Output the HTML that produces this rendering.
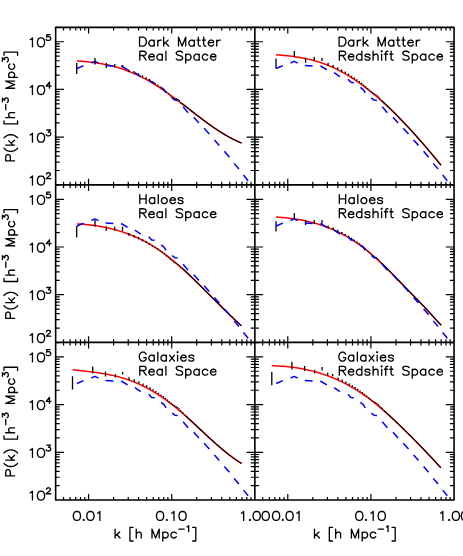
<!DOCTYPE html>
<html><head><meta charset="utf-8"><title>P(k)</title>
<style>html,body{margin:0;padding:0;background:#fff;font-family:"Liberation Sans",sans-serif}svg{display:block}</style>
</head><body>
<svg width="463" height="556" viewBox="0 0 463 556">
<rect width="463" height="556" fill="#fff"/>
<g>
<polyline points="77.1,60.89 78.1,60.95 79.1,61.03 80.1,61.1 81.1,61.18 82.1,61.26 83.1,61.35 84.1,61.43 85.1,61.53 86.1,61.63 87.1,61.73 88.1,61.83 89.1,61.94 90.1,62.06 91.1,62.18 92.1,62.3 93.1,62.43 94.1,62.56 95.1,62.7 96.1,62.85 97.1,63 98.1,63.16 99.1,63.32 100.1,63.48 101.1,63.66 102.1,63.84 103.1,64.02 104.1,64.22 105.1,64.42 106.1,64.62 107.1,64.83 108.1,65.05 109.1,65.28 110.1,65.51 111.1,65.75 112.1,66 113.1,66.26 114.1,66.52 115.1,66.79 116.1,67.07 117.1,67.35 118.1,67.65 119.1,67.95 120.1,68.26 121.1,68.58 122.1,68.91 123.1,69.25 124.1,69.6 125.1,69.95 126.1,70.32 127.1,70.69 128.1,71.07 129.1,71.46 130.1,71.86 131.1,72.27 132.1,72.69 133.1,73.11 134.1,73.55 135.1,73.99 136.1,74.44 137.1,74.9 138.1,75.37 139.1,75.85 140.1,76.34 141.1,76.84 142.1,77.35 143.1,77.86 144.1,78.39 145.1,78.92 146.1,79.46 147.1,80.01 148.1,80.57 149.1,81.14 150.1,81.72 151.1,82.31 152.1,82.91 153.1,83.51 154.1,84.12 155.1,84.74 156.1,85.37 157.1,86.01 158.1,86.65 159.1,87.31 160.1,87.96 161.1,88.63 162.1,89.3 163.1,89.98 164.1,90.67 165.1,91.36 166.1,92.06 167.1,92.76 168.1,93.47 169.1,94.19 170.1,94.91 171.1,95.63 172.1,96.36 173.1,97.1 174.1,97.84 175.1,98.58 176.1,99.33 177.1,100.08 178.1,100.83 179.1,101.59 180.1,102.35 181.1,103.11 182.1,103.87 183.1,104.63 184.1,105.4 185.1,106.17 186.1,106.94 187.1,107.71 188.1,108.48 189.1,109.25 190.1,110.02 191.1,110.79 192.1,111.55 193.1,112.32 194.1,113.09 195.1,113.85 196.1,114.62 197.1,115.38 198.1,116.14 199.1,116.89 200.1,117.65 201.1,118.4 202.1,119.15 203.1,119.89 204.1,120.63 205.1,121.37 206.1,122.1 207.1,122.83 208.1,123.55 209.1,124.26 210.1,124.98 211.1,125.68 212.1,126.38 213.1,127.07 214.1,127.76 215.1,128.44 216.1,129.11 217.1,129.78 218.1,130.43 219.1,131.08 220.1,131.73 221.1,132.36 222.1,132.98 223.1,133.6 224.1,134.2 225.1,134.8 226.1,135.39 227.1,135.96 228.1,136.53 229.1,137.09 230.1,137.63 231.1,138.16 232.1,138.69 233.1,139.2 234.1,139.7 235.1,140.18 236.1,140.66 237.1,141.12 238.1,141.57 239.1,142 240.1,142.42 241.1,142.83 241.6,143.03" fill="none" stroke="#ff0000" stroke-width="1.5" stroke-linecap="butt" stroke-linejoin="round"/>
<path d="M77 68.5L83.6 65.6M91.4 62.96L95 61.36L98.5 63.06M105.6 65.56L113.4 65.96M121.2 65.96L127.6 69.76M134.9 72.66L140.7 76.56M148.8 79.16L151.7 82.36L154.7 82.76M161.2 87.36L164 89.56L166 92.76M172.1 97.96L174.8 100.1L177.7 100.4M183.1 106.76L188.1 112.66M193.8 117.16L198.9 122.96M204.1 128.16L209.3 133.96M214.4 139.9L219.3 145.4M224.4 151.36L229.4 157.16M234.1 163.36L238.9 169.06M243.5 175.06L248.1 180.76" fill="none" stroke="#0000ff" stroke-width="1.5" stroke-linecap="butt" stroke-linejoin="round"/>
<path d="M76.7 62.95V74M95 58V64.5M106.3 63V68.1M114.7 64V67.5M122.5 64.9V67.5M128.9 69.4V72M134.03 70.96V73.52M138.53 73.13V75.43M142.52 75.36V77.45M146.12 77.21V79.14M149.39 79.12V80.91M152.39 81.19V82.86M155.16 82.96V84.53M157.74 84.52V86M160.14 86.36V87.77M162.39 87.92V89.26M164.51 89.5V90.79M166.51 91.6V92.83M168.41 93.41V94.59M170.21 95.38V96.53M171.93 96.79V97.89M173.56 97.99V99.09M175.13 98.16V99.26M176.63 98.31V99.41M178.08 98.98V100.08M179.46 100.03V101.13M180.8 102.28V103.38" fill="none" stroke="#000" stroke-width="1.3" stroke-linecap="butt"/>
<polyline points="182.09,103.45 183.33,104.42 184.53,105.36 185.69,106.28 186.82,107.16 187.91,108.03 188.97,108.86 190.01,109.67 191.01,110.46 191.98,111.23 192.93,111.97 193.86,112.7 194.76,113.41 195.64,114.1 196.5,114.77 197.34,115.42 198.16,116.06 198.96,116.68 199.74,117.28 200.51,117.88 201.26,118.45 202,119.02 202.72,119.57 203.43,120.1 204.12,120.63 204.8,121.14 205.47,121.64 206.12,122.12 206.77,122.59 207.4,123.04 208.02,123.49 208.64,123.93 209.24,124.36 209.83,124.78 210.41,125.19 210.98,125.6 211.55,125.99 212.1,126.38 212.65,126.76 213.19,127.13 213.72,127.5 214.24,127.86 214.76,128.21 215.27,128.55 215.77,128.89 216.26,129.22 216.75,129.54 217.23,129.86 217.7,130.18 218.17,130.48 218.64,130.78 219.09,131.08 219.54,131.37 219.99,131.65 220.43,131.94 220.86,132.21 221.29,132.48 221.72,132.75 222.14,133.01 222.55,133.26 222.96,133.51 223.37,133.76 223.77,134.01 224.17,134.24 224.56,134.48 224.95,134.71 225.33,134.94 225.71,135.16 226.09,135.38 226.46,135.6 226.83,135.81 227.19,136.02 227.55,136.22 227.91,136.42 228.26,136.62 228.61,136.82 228.96,137.01 229.3,137.2 229.65,137.38 229.98,137.57 230.32,137.75 230.65,137.92 230.98,138.1 231.3,138.27 231.62,138.44 231.94,138.61 232.26,138.77 232.57,138.93 232.88,139.09 233.19,139.24 233.5,139.4 233.8,139.55 234.1,139.7 234.4,139.84 234.7,139.99 234.99,140.13 235.28,140.27 235.57,140.41 235.86,140.54 236.14,140.68 236.42,140.81 236.7,140.94 236.98,141.06 237.26,141.19 237.53,141.31 237.8,141.43 238.07,141.55 238.34,141.67 238.6,141.79 238.87,141.9 239.13,142.01 239.39,142.12 239.65,142.23 239.9,142.34 240.16,142.44 240.41,142.55 240.66,142.65 240.91,142.75 241.16,142.85 241.4,142.95 241.64,143.03" fill="none" stroke="#000" stroke-width="1.1" stroke-linecap="butt" stroke-linejoin="round"/>
</g>
<g>
<polyline points="276,54.73 277,54.81 278,54.89 279,54.97 280,55.06 281,55.15 282,55.24 283,55.33 284,55.43 285,55.53 286,55.63 287,55.74 288,55.85 289,55.96 290,56.08 291,56.21 292,56.33 293,56.47 294,56.6 295,56.74 296,56.89 297,57.04 298,57.2 299,57.36 300,57.53 301,57.71 302,57.89 303,58.08 304,58.27 305,58.47 306,58.68 307,58.89 308,59.12 309,59.34 310,59.58 311,59.83 312,60.08 313,60.34 314,60.61 315,60.88 316,61.17 317,61.46 318,61.76 319,62.08 320,62.4 321,62.73 322,63.07 323,63.42 324,63.78 325,64.15 326,64.53 327,64.92 328,65.32 329,65.73 330,66.15 331,66.58 332,67.02 333,67.48 334,67.94 335,68.42 336,68.9 337,69.4 338,69.9 339,70.41 340,70.94 341,71.47 342,72.02 343,72.57 344,73.14 345,73.71 346,74.3 347,74.89 348,75.49 349,76.11 350,76.73 351,77.36 352,78 353,78.65 354,79.31 355,79.98 356,80.66 357,81.35 358,82.04 359,82.75 360,83.46 361,84.18 362,84.92 363,85.66 364,86.41 365,87.16 366,87.93 367,88.7 368,89.49 369,90.28 370,91.08 371,91.89 372,92.7 373,93.53 374,94.36 375,95.2 376,96.05 377,96.91 378,97.77 379,98.64 380,99.52 381,100.41 382,101.3 383,102.21 384,103.12 385,104.03 386,104.96 387,105.89 388,106.83 389,107.77 390,108.72 391,109.68 392,110.65 393,111.62 394,112.6 395,113.59 396,114.59 397,115.59 398,116.59 399,117.61 400,118.63 401,119.65 402,120.68 403,121.72 404,122.77 405,123.82 406,124.87 407,125.94 408,127.01 409,128.08 410,129.16 411,130.25 412,131.34 413,132.43 414,133.54 415,134.64 416,135.76 417,136.88 418,138 419,139.13 420,140.26 421,141.4 422,142.55 423,143.7 424,144.85 425,146.01 426,147.18 427,148.34 428,149.52 429,150.7 430,151.88 431,153.06 432,154.26 433,155.45 434,156.65 435,157.85 436,159.06 437,160.27 438,161.49 439,162.71 440,163.93 441,165.16" fill="none" stroke="#ff0000" stroke-width="1.5" stroke-linecap="butt" stroke-linejoin="round"/>
<path d="M276 58.5V68.6M294.3 51.1V57.3M305.6 58.2V62.8M314.2 57V61.1M322 58V61.1M328.09 62.77V65.66M333.23 64.92V67.47M337.73 67.21V69.51M341.72 69.49V71.59M345.32 71.54V73.46M348.59 73.56V75.35M351.59 75.63V77.3M354.36 77.5V79.07M356.94 79.23V80.71M359.34 81.07V82.48M361.59 82.74V84.08M363.71 84.39V85.68M365.71 86.27V87.51M367.61 87.99V89.18M369.41 89.77V90.91M371.13 91.24V92.34M372.76 92.58V93.68M374.33 93.39V94.49M375.83 94.22V95.32M377.28 95.29V96.39M378.66 96.54V97.64M380 98.37V99.47" fill="none" stroke="#000" stroke-width="1.3" stroke-linecap="butt"/>
<polyline points="381.29,100.25 382.53,101.39 383.73,102.5 384.89,103.59 386.02,104.65 387.11,105.69 388.17,106.7 389.21,107.7 390.21,108.67 391.18,109.63 392.13,110.56 393.06,111.48 393.96,112.38 394.84,113.26 395.7,114.13 396.54,114.98 397.36,115.82 398.16,116.64 398.94,117.45 399.71,118.25 400.46,119.03 401.2,119.8 401.92,120.56 402.63,121.3 403.32,122.04 404,122.76 404.67,123.47 405.32,124.16 405.97,124.84 406.6,125.51 407.22,126.18 407.84,126.83 408.44,127.47 409.03,128.11 409.61,128.74 410.18,129.36 410.75,129.97 411.3,130.58 411.85,131.17 412.39,131.76 412.92,132.34 413.44,132.92 413.96,133.49 414.47,134.05 414.97,134.61 415.46,135.16 415.95,135.7 416.43,136.24 416.9,136.77 417.37,137.3 417.84,137.82 418.29,138.33 418.74,138.84 419.19,139.34 419.63,139.84 420.06,140.34 420.49,140.83 420.92,141.31 421.34,141.79 421.75,142.27 422.16,142.74 422.57,143.2 422.97,143.66 423.37,144.12 423.76,144.57 424.15,145.02 424.53,145.47 424.91,145.91 425.29,146.34 425.66,146.78 426.03,147.21 426.39,147.63 426.75,148.05 427.11,148.47 427.46,148.89 427.81,149.3 428.16,149.71 428.5,150.11 428.85,150.51 429.18,150.91 429.52,151.31 429.85,151.7 430.18,152.09 430.5,152.47 430.82,152.85 431.14,153.23 431.46,153.61 431.77,153.98 432.08,154.36 432.39,154.72 432.7,155.09 433,155.45 433.3,155.81 433.6,156.17 433.9,156.53 434.19,156.88 434.48,157.23 434.77,157.58 435.06,157.92 435.34,158.27 435.62,158.61 435.9,158.94 436.18,159.28 436.46,159.61 436.73,159.95 437,160.28 437.27,160.6 437.54,160.93 437.8,161.25 438.07,161.57 438.33,161.89 438.59,162.21 438.85,162.52 439.1,162.83 439.36,163.15 439.61,163.45 439.86,163.76 440.11,164.07 440.36,164.37 440.6,164.67 440.84,164.97 441.09,165.16" fill="none" stroke="#000" stroke-width="1.1" stroke-linecap="butt" stroke-linejoin="round"/>
<path d="M276.2 68.5L282.8 65.6M290.6 62.96L294.2 61.36L297.7 63.06M304.8 65.56L312.6 65.96M320.4 65.96L326.8 69.76M334.1 72.66L339.9 76.56M348 79.16L350.9 82.36L353.9 82.76M360.4 87.36L363.2 89.56L365.2 92.76M371.3 97.96L374 100.1L376.9 100.4M382.3 106.76L387.3 112.66M393 117.16L398.1 122.96M403.3 128.16L408.5 133.96M413.6 139.9L418.5 145.4M423.6 151.36L428.6 157.16M433.3 163.36L438.1 169.06M442.7 175.06L447.3 180.76" fill="none" stroke="#0000ff" stroke-width="1.5" stroke-linecap="butt" stroke-linejoin="round"/>
</g>
<g>
<polyline points="77.1,223.84 78.1,223.9 79.1,223.97 80.1,224.04 81.1,224.11 82.1,224.19 83.1,224.27 84.1,224.36 85.1,224.45 86.1,224.55 87.1,224.65 88.1,224.76 89.1,224.87 90.1,224.98 91.1,225.1 92.1,225.23 93.1,225.36 94.1,225.5 95.1,225.64 96.1,225.79 97.1,225.94 98.1,226.1 99.1,226.26 100.1,226.43 101.1,226.61 102.1,226.79 103.1,226.98 104.1,227.17 105.1,227.37 106.1,227.58 107.1,227.79 108.1,228.01 109.1,228.24 110.1,228.47 111.1,228.71 112.1,228.96 113.1,229.22 114.1,229.48 115.1,229.75 116.1,230.02 117.1,230.3 118.1,230.59 119.1,230.89 120.1,231.2 121.1,231.51 122.1,231.83 123.1,232.16 124.1,232.5 125.1,232.84 126.1,233.2 127.1,233.56 128.1,233.93 129.1,234.31 130.1,234.7 131.1,235.09 132.1,235.5 133.1,235.91 134.1,236.33 135.1,236.76 136.1,237.2 137.1,237.65 138.1,238.11 139.1,238.58 140.1,239.06 141.1,239.54 142.1,240.04 143.1,240.54 144.1,241.06 145.1,241.59 146.1,242.12 147.1,242.67 148.1,243.22 149.1,243.79 150.1,244.37 151.1,244.96 152.1,245.55 153.1,246.16 154.1,246.78 155.1,247.41 156.1,248.05 157.1,248.7 158.1,249.37 159.1,250.04 160.1,250.72 161.1,251.42 162.1,252.13 163.1,252.85 164.1,253.58 165.1,254.32 166.1,255.07 167.1,255.84 168.1,256.61 169.1,257.4 170.1,258.19 171.1,259 172.1,259.81 173.1,260.64 174.1,261.47 175.1,262.31 176.1,263.16 177.1,264.02 178.1,264.89 179.1,265.76 180.1,266.65 181.1,267.54 182.1,268.43 183.1,269.34 184.1,270.25 185.1,271.16 186.1,272.09 187.1,273.01 188.1,273.95 189.1,274.89 190.1,275.83 191.1,276.78 192.1,277.74 193.1,278.7 194.1,279.66 195.1,280.63 196.1,281.6 197.1,282.57 198.1,283.55 199.1,284.53 200.1,285.51 201.1,286.49 202.1,287.48 203.1,288.47 204.1,289.46 205.1,290.45 206.1,291.45 207.1,292.44 208.1,293.44 209.1,294.43 210.1,295.43 211.1,296.43 212.1,297.42 213.1,298.42 214.1,299.42 215.1,300.42 216.1,301.41 217.1,302.41 218.1,303.4 219.1,304.39 220.1,305.39 221.1,306.38 222.1,307.36 223.1,308.35 224.1,309.33 225.1,310.32 226.1,311.3 227.1,312.27 228.1,313.24 229.1,314.21 230.1,315.18 231.1,316.14 232.1,317.1 233.1,318.06 234.1,319.01 235.1,319.96 236.1,320.9 237.1,321.84 238.1,322.77 239.1,323.7 240.1,324.62 241.1,325.54 241.4,325.81" fill="none" stroke="#ff0000" stroke-width="1.5" stroke-linecap="butt" stroke-linejoin="round"/>
<path d="M76.7 226V237.5M95 220.1V226.6M106.3 226.2V230.7M114.7 226.8V230.7M122.5 226.8V230.7M128.89 232.94V235.83M134.03 234.93V237.49M138.53 237.06V239.36M142.52 239.18V241.27M146.12 241.07V243M149.39 242.97V244.75M152.39 244.92V246.59M155.16 246.7V248.27M157.74 248.35V249.84M160.14 250.13V251.54M162.39 251.76V253.1M164.51 253.39V254.67M166.51 255.25V256.49M168.41 256.97V258.15M170.21 258.74V259.89M171.93 260.22V261.32M173.56 261.57V262.67M175.13 262.39V263.49M176.63 263.15V264.25M178.08 264.16V265.26M179.46 265.34V266.44M180.8 267.12V268.22" fill="none" stroke="#000" stroke-width="1.3" stroke-linecap="butt"/>
<polyline points="182.09,268.01 183.33,269.15 184.53,270.27 185.69,271.36 186.82,272.43 187.91,273.47 188.97,274.48 190.01,275.47 191.01,276.44 191.98,277.39 192.93,278.32 193.86,279.22 194.76,280.11 195.64,280.98 196.5,281.83 197.34,282.66 198.16,283.48 198.96,284.28 199.74,285.06 200.51,285.83 201.26,286.59 202,287.33 202.72,288.05 203.43,288.76 204.12,289.46 204.8,290.15 205.47,290.82 206.12,291.47 206.77,292.11 207.4,292.74 208.02,293.36 208.64,293.97 209.24,294.57 209.83,295.16 210.41,295.74 210.98,296.31 211.55,296.87 212.1,297.43 212.65,297.97 213.19,298.51 213.72,299.04 214.24,299.56 214.76,300.07 215.27,300.58 215.77,301.08 216.26,301.57 216.75,302.06 217.23,302.54 217.7,303.01 218.17,303.47 218.64,303.93 219.09,304.39 219.54,304.83 219.99,305.28 220.43,305.71 220.86,306.14 221.29,306.57 221.72,306.99 222.14,307.4 222.55,307.81 222.96,308.22 223.37,308.61 223.77,309.01 224.17,309.4 224.56,309.78 224.95,310.17 225.33,310.54 225.71,310.91 226.09,311.28 226.46,311.65 226.83,312 227.19,312.36 227.55,312.71 227.91,313.06 228.26,313.4 228.61,313.74 228.96,314.08 229.3,314.41 229.65,314.74 229.98,315.07 230.32,315.39 230.65,315.71 230.98,316.03 231.3,316.34 231.62,316.65 231.94,316.95 232.26,317.26 232.57,317.56 232.88,317.85 233.19,318.15 233.5,318.44 233.8,318.73 234.1,319.01 234.4,319.3 234.7,319.58 234.99,319.85 235.28,320.13 235.57,320.4 235.86,320.67 236.14,320.94 236.42,321.2 236.7,321.47 236.98,321.73 237.26,321.98 237.53,322.24 237.8,322.49 238.07,322.74 238.34,322.99 238.6,323.24 238.87,323.48 239.13,323.72 239.39,323.96 239.65,324.2 239.9,324.44 240.16,324.67 240.41,324.9 240.66,325.13 240.91,325.36 241.16,325.59 241.4,325.81" fill="none" stroke="#000" stroke-width="1.1" stroke-linecap="butt" stroke-linejoin="round"/>
<path d="M77 226.03L83.6 223.13M91.4 220.49L95 218.89L98.5 220.59M105.6 223.09L113.4 223.49M121.2 223.49L127.6 227.29M134.9 230.19L140.7 234.09M148.8 236.69L151.7 239.89L154.7 240.29M161.2 244.89L164 247.09L166 250.29M172.1 255.49L174.8 257.63L177.7 257.93M183.1 264.29L188.1 270.19M193.8 274.69L198.9 280.49M204.1 285.69L209.3 291.49M214.4 297.43L219.3 302.93M224.4 308.89L229.4 314.69M234.1 320.89L238.9 326.59M243.5 332.59L248.1 338.29" fill="none" stroke="#0000ff" stroke-width="1.5" stroke-linecap="butt" stroke-linejoin="round"/>
</g>
<g>
<polyline points="276,217.04 277,217.1 278,217.16 279,217.23 280,217.31 281,217.38 282,217.47 283,217.55 284,217.64 285,217.74 286,217.84 287,217.94 288,218.05 289,218.17 290,218.29 291,218.41 292,218.54 293,218.68 294,218.82 295,218.97 296,219.12 297,219.28 298,219.44 299,219.61 300,219.79 301,219.97 302,220.16 303,220.35 304,220.55 305,220.76 306,220.97 307,221.2 308,221.42 309,221.66 310,221.9 311,222.15 312,222.41 313,222.67 314,222.94 315,223.22 316,223.51 317,223.8 318,224.1 319,224.41 320,224.73 321,225.05 322,225.39 323,225.73 324,226.08 325,226.44 326,226.81 327,227.19 328,227.57 329,227.97 330,228.37 331,228.78 332,229.2 333,229.63 334,230.07 335,230.52 336,230.98 337,231.45 338,231.93 339,232.42 340,232.92 341,233.43 342,233.95 343,234.48 344,235.02 345,235.57 346,236.13 347,236.7 348,237.28 349,237.88 350,238.48 351,239.1 352,239.72 353,240.36 354,241.01 355,241.67 356,242.34 357,243.03 358,243.72 359,244.43 360,245.15 361,245.88 362,246.63 363,247.38 364,248.15 365,248.93 366,249.73 367,250.53 368,251.35 369,252.18 370,253.02 371,253.87 372,254.73 373,255.6 374,256.49 375,257.38 376,258.28 377,259.19 378,260.11 379,261.04 380,261.97 381,262.92 382,263.87 383,264.82 384,265.79 385,266.76 386,267.74 387,268.72 388,269.71 389,270.7 390,271.7 391,272.71 392,273.71 393,274.72 394,275.74 395,276.76 396,277.78 397,278.8 398,279.83 399,280.86 400,281.89 401,282.92 402,283.95 403,284.98 404,286.01 405,287.05 406,288.08 407,289.11 408,290.14 409,291.17 410,292.2 411,293.23 412,294.25 413,295.28 414,296.3 415,297.31 416,298.33 417,299.35 418,300.37 419,301.39 420,302.41 421,303.44 422,304.48 423,305.52 424,306.57 425,307.63 426,308.7 427,309.78 428,310.87 429,311.97 430,313.07 431,314.18 432,315.28 433,316.39 434,317.5 435,318.6 436,319.7 437,320.79 438,321.87 439,322.94 440,323.99 441,325.04 441.2,325.25" fill="none" stroke="#ff0000" stroke-width="1.5" stroke-linecap="butt" stroke-linejoin="round"/>
<path d="M276 221.2V231.6M294.3 213V219.2M305.6 220.3V225.1M314.2 219.9V223.8M322 219.9V223.8M328.09 225.52V228.41M333.23 227.57V230.12M337.73 229.75V232.05M341.72 231.93V234.02M345.32 233.89V235.81M348.59 235.84V237.63M351.59 237.85V239.53M354.36 239.7V241.27M356.94 241.41V242.9M359.34 243.26V244.67M361.59 244.95V246.29M363.71 246.63V247.92M365.71 248.56V249.79M367.61 250.34V251.52M369.41 252.18V253.33M371.13 253.73V254.83M372.76 255.15V256.25M374.33 256.03V257.13M375.83 256.91V258.01M377.28 258.03V259.13M378.66 259.33V260.43M380 261.21V262.31" fill="none" stroke="#000" stroke-width="1.3" stroke-linecap="butt"/>
<polyline points="381.29,262.77 382.53,263.98 383.73,265.16 384.89,266.31 386.02,267.43 387.11,268.53 388.17,269.59 389.21,270.64 390.21,271.66 391.18,272.65 392.13,273.63 393.06,274.58 393.96,275.51 394.84,276.42 395.7,277.32 396.54,278.19 397.36,279.04 398.16,279.88 398.94,280.7 399.71,281.51 400.46,282.29 401.2,283.07 401.92,283.82 402.63,284.57 403.32,285.3 404,286.01 404.67,286.71 405.32,287.38 405.97,288.05 406.6,288.7 407.22,289.34 407.84,289.97 408.44,290.59 409.03,291.2 409.61,291.8 410.18,292.39 410.75,292.97 411.3,293.54 411.85,294.1 412.39,294.65 412.92,295.19 413.44,295.73 413.96,296.25 414.47,296.77 414.97,297.28 415.46,297.78 415.95,298.28 416.43,298.77 416.9,299.25 417.37,299.73 417.84,300.2 418.29,300.67 418.74,301.13 419.19,301.58 419.63,302.03 420.06,302.48 420.49,302.92 420.92,303.36 421.34,303.79 421.75,304.22 422.16,304.65 422.57,305.07 422.97,305.49 423.37,305.91 423.76,306.32 424.15,306.73 424.53,307.13 424.91,307.54 425.29,307.94 425.66,308.34 426.03,308.73 426.39,309.12 426.75,309.51 427.11,309.9 427.46,310.29 427.81,310.67 428.16,311.05 428.5,311.42 428.85,311.8 429.18,312.17 429.52,312.54 429.85,312.9 430.18,313.26 430.5,313.62 430.82,313.98 431.14,314.33 431.46,314.68 431.77,315.03 432.08,315.38 432.39,315.72 432.7,316.06 433,316.39 433.3,316.73 433.6,317.06 433.9,317.38 434.19,317.71 434.48,318.03 434.77,318.35 435.06,318.66 435.34,318.97 435.62,319.28 435.9,319.59 436.18,319.89 436.46,320.19 436.73,320.49 437,320.79 437.27,321.08 437.54,321.37 437.8,321.65 438.07,321.94 438.33,322.22 438.59,322.5 438.85,322.77 439.1,323.04 439.36,323.31 439.61,323.58 439.86,323.85 440.11,324.11 440.36,324.37 440.6,324.62 440.84,324.88 441.09,325.13 441.33,325.25" fill="none" stroke="#000" stroke-width="1.1" stroke-linecap="butt" stroke-linejoin="round"/>
<path d="M276.2 226.03L282.8 223.13M290.6 220.49L294.2 218.89L297.7 220.59M304.8 223.09L312.6 223.49M320.4 223.49L326.8 227.29M334.1 230.19L339.9 234.09M348 236.69L350.9 239.89L353.9 240.29M360.4 244.89L363.2 247.09L365.2 250.29M371.3 255.49L374 257.63L376.9 257.93M382.3 264.29L387.3 270.19M393 274.69L398.1 280.49M403.3 285.69L408.5 291.49M413.6 297.43L418.5 302.93M423.6 308.89L428.6 314.69M433.3 320.89L438.1 326.59M442.7 332.59L447.3 338.29" fill="none" stroke="#0000ff" stroke-width="1.5" stroke-linecap="butt" stroke-linejoin="round"/>
</g>
<g>
<polyline points="72.5,369.7 73.5,369.82 74.5,369.94 75.5,370.06 76.5,370.18 77.5,370.29 78.5,370.41 79.5,370.52 80.5,370.64 81.5,370.75 82.5,370.87 83.5,370.98 84.5,371.1 85.5,371.21 86.5,371.33 87.5,371.45 88.5,371.57 89.5,371.69 90.5,371.81 91.5,371.94 92.5,372.06 93.5,372.19 94.5,372.33 95.5,372.46 96.5,372.6 97.5,372.74 98.5,372.88 99.5,373.03 100.5,373.18 101.5,373.34 102.5,373.5 103.5,373.66 104.5,373.83 105.5,374.01 106.5,374.19 107.5,374.37 108.5,374.56 109.5,374.76 110.5,374.96 111.5,375.17 112.5,375.39 113.5,375.61 114.5,375.84 115.5,376.07 116.5,376.32 117.5,376.57 118.5,376.83 119.5,377.09 120.5,377.37 121.5,377.65 122.5,377.94 123.5,378.25 124.5,378.56 125.5,378.87 126.5,379.2 127.5,379.54 128.5,379.89 129.5,380.25 130.5,380.61 131.5,380.99 132.5,381.37 133.5,381.77 134.5,382.18 135.5,382.59 136.5,383.01 137.5,383.45 138.5,383.89 139.5,384.35 140.5,384.81 141.5,385.28 142.5,385.77 143.5,386.26 144.5,386.76 145.5,387.28 146.5,387.8 147.5,388.33 148.5,388.87 149.5,389.43 150.5,389.99 151.5,390.56 152.5,391.14 153.5,391.74 154.5,392.34 155.5,392.95 156.5,393.57 157.5,394.21 158.5,394.85 159.5,395.5 160.5,396.17 161.5,396.84 162.5,397.52 163.5,398.22 164.5,398.92 165.5,399.64 166.5,400.36 167.5,401.09 168.5,401.84 169.5,402.6 170.5,403.36 171.5,404.14 172.5,404.93 173.5,405.72 174.5,406.53 175.5,407.35 176.5,408.17 177.5,409 178.5,409.85 179.5,410.7 180.5,411.55 181.5,412.42 182.5,413.29 183.5,414.17 184.5,415.05 185.5,415.94 186.5,416.84 187.5,417.74 188.5,418.64 189.5,419.55 190.5,420.46 191.5,421.38 192.5,422.3 193.5,423.22 194.5,424.15 195.5,425.07 196.5,426 197.5,426.93 198.5,427.86 199.5,428.79 200.5,429.72 201.5,430.65 202.5,431.58 203.5,432.51 204.5,433.44 205.5,434.37 206.5,435.29 207.5,436.21 208.5,437.13 209.5,438.04 210.5,438.96 211.5,439.86 212.5,440.77 213.5,441.67 214.5,442.56 215.5,443.45 216.5,444.33 217.5,445.21 218.5,446.07 219.5,446.94 220.5,447.79 221.5,448.64 222.5,449.48 223.5,450.31 224.5,451.13 225.5,451.95 226.5,452.75 227.5,453.54 228.5,454.33 229.5,455.1 230.5,455.86 231.5,456.61 232.5,457.35 233.5,458.08 234.5,458.79 235.5,459.49 236.5,460.18 237.5,460.86 238.5,461.52 239.5,462.16 240.5,462.8 241.5,463.41 241.6,463.47" fill="none" stroke="#ff0000" stroke-width="1.5" stroke-linecap="butt" stroke-linejoin="round"/>
<path d="M72.5 376.2V389.5M92.7 366.5V373.6M105.5 371.4V376.6M115.4 374V377.5M122.7 371.9V374.5M128.99 377.28V380.16M134.29 379.22V381.76M138.92 381.34V383.62M143.01 383.46V385.52M146.69 385.35V387.25M150.03 387.24V389M153.09 389.22V390.86M155.9 390.93V392.48M158.52 392.63V394.09M160.95 394.39V395.78M163.24 395.95V397.27M165.38 397.71V398.97M167.41 399.52V400.73M169.33 401.22V402.38M171.15 402.91V404.03M172.89 404.28V405.38M174.54 405.35V406.45M176.12 406.1V407.2M177.64 407.08V408.18M179.09 408.36V409.46M180.49 410.1V411.2M181.84 411.44V412.54M183.14 412.62V413.72" fill="none" stroke="#000" stroke-width="1.3" stroke-linecap="butt"/>
<polyline points="184.39,414.58 185.6,415.68 186.77,416.75 187.91,417.8 189.01,418.81 190.07,419.81 191.11,420.77 192.12,421.72 193.1,422.64 194.05,423.54 194.98,424.41 195.89,425.27 196.78,426.11 197.64,426.93 198.48,427.73 199.31,428.51 200.11,429.27 200.9,430.02 201.67,430.75 202.43,431.47 203.17,432.17 203.89,432.85 204.6,433.53 205.3,434.18 205.98,434.81 206.65,435.43 207.31,436.04 207.96,436.63 208.59,437.21 209.22,437.79 209.83,438.35 210.43,438.9 211.03,439.44 211.61,439.96 212.19,440.48 212.75,440.99 213.31,441.49 213.86,441.99 214.4,442.47 214.93,442.94 215.46,443.41 215.97,443.86 216.48,444.31 216.99,444.76 217.48,445.19 217.97,445.62 218.45,446.03 218.93,446.45 219.4,446.85 219.86,447.25 220.32,447.64 220.77,448.03 221.22,448.4 221.66,448.78 222.1,449.14 222.53,449.5 222.95,449.86 223.37,450.21 223.79,450.55 224.2,450.89 224.61,451.22 225.01,451.55 225.41,451.87 225.8,452.19 226.19,452.5 226.57,452.81 226.96,453.11 227.33,453.41 227.71,453.71 228.07,454 228.44,454.28 228.8,454.56 229.16,454.84 229.51,455.11 229.87,455.38 230.21,455.65 230.56,455.91 230.9,456.16 231.24,456.42 231.57,456.67 231.9,456.91 232.23,457.16 232.56,457.4 232.88,457.63 233.2,457.86 233.52,458.09 233.83,458.32 234.14,458.54 234.45,458.76 234.76,458.98 235.06,459.19 235.37,459.4 235.66,459.61 235.96,459.81 236.25,460.02 236.55,460.21 236.84,460.41 237.12,460.6 237.41,460.8 237.69,460.98 237.97,461.17 238.25,461.35 238.52,461.53 238.8,461.71 239.07,461.89 239.34,462.06 239.61,462.23 239.87,462.4 240.14,462.57 240.4,462.73 240.66,462.89 240.92,463.05 241.17,463.21 241.43,463.37 241.68,463.47" fill="none" stroke="#000" stroke-width="1.1" stroke-linecap="butt" stroke-linejoin="round"/>
<path d="M77 383.54L83.6 380.64M91.4 378L95 376.4L98.5 378.1M105.6 380.6L113.4 381M121.2 381L127.6 384.8M134.9 387.7L140.7 391.6M148.8 394.2L151.7 397.4L154.7 397.8M161.2 402.4L164 404.6L166 407.8M172.1 413L174.8 415.14L177.7 415.44M183.1 421.8L188.1 427.7M193.8 432.2L198.9 438M204.1 443.2L209.3 449M214.4 454.94L219.3 460.44M224.4 466.4L229.4 472.2M234.1 478.4L238.9 484.1M243.5 490.1L248.1 495.8" fill="none" stroke="#0000ff" stroke-width="1.5" stroke-linecap="butt" stroke-linejoin="round"/>
</g>
<g>
<polyline points="271.8,365.82 272.8,365.84 273.8,365.86 274.8,365.89 275.8,365.92 276.8,365.96 277.8,366 278.8,366.05 279.8,366.1 280.8,366.16 281.8,366.22 282.8,366.29 283.8,366.37 284.8,366.45 285.8,366.53 286.8,366.62 287.8,366.72 288.8,366.82 289.8,366.93 290.8,367.05 291.8,367.17 292.8,367.29 293.8,367.42 294.8,367.56 295.8,367.7 296.8,367.85 297.8,368.01 298.8,368.17 299.8,368.34 300.8,368.52 301.8,368.7 302.8,368.89 303.8,369.08 304.8,369.28 305.8,369.49 306.8,369.71 307.8,369.93 308.8,370.16 309.8,370.39 310.8,370.63 311.8,370.88 312.8,371.14 313.8,371.4 314.8,371.67 315.8,371.95 316.8,372.23 317.8,372.53 318.8,372.83 319.8,373.13 320.8,373.45 321.8,373.77 322.8,374.1 323.8,374.44 324.8,374.78 325.8,375.13 326.8,375.49 327.8,375.86 328.8,376.24 329.8,376.62 330.8,377.02 331.8,377.42 332.8,377.83 333.8,378.24 334.8,378.67 335.8,379.1 336.8,379.54 337.8,380 338.8,380.45 339.8,380.92 340.8,381.4 341.8,381.88 342.8,382.38 343.8,382.88 344.8,383.39 345.8,383.91 346.8,384.44 347.8,384.98 348.8,385.52 349.8,386.08 350.8,386.65 351.8,387.22 352.8,387.81 353.8,388.4 354.8,389 355.8,389.61 356.8,390.24 357.8,390.87 358.8,391.51 359.8,392.16 360.8,392.82 361.8,393.49 362.8,394.17 363.8,394.86 364.8,395.56 365.8,396.27 366.8,396.99 367.8,397.72 368.8,398.46 369.8,399.21 370.8,399.97 371.8,400.74 372.8,401.52 373.8,402.32 374.8,403.12 375.8,403.93 376.8,404.75 377.8,405.58 378.8,406.42 379.8,407.26 380.8,408.11 381.8,408.98 382.8,409.84 383.8,410.72 384.8,411.6 385.8,412.49 386.8,413.38 387.8,414.28 388.8,415.19 389.8,416.1 390.8,417.02 391.8,417.94 392.8,418.86 393.8,419.79 394.8,420.73 395.8,421.67 396.8,422.61 397.8,423.56 398.8,424.52 399.8,425.48 400.8,426.44 401.8,427.41 402.8,428.38 403.8,429.35 404.8,430.33 405.8,431.31 406.8,432.3 407.8,433.29 408.8,434.28 409.8,435.28 410.8,436.28 411.8,437.29 412.8,438.29 413.8,439.3 414.8,440.32 415.8,441.34 416.8,442.36 417.8,443.38 418.8,444.41 419.8,445.43 420.8,446.47 421.8,447.5 422.8,448.54 423.8,449.58 424.8,450.63 425.8,451.67 426.8,452.73 427.8,453.78 428.8,454.84 429.8,455.9 430.8,456.96 431.8,458.02 432.8,459.09 433.8,460.16 434.8,461.24 435.8,462.32 436.8,463.4 437.8,464.48 438.8,465.57 439.8,466.66 440.8,467.75" fill="none" stroke="#ff0000" stroke-width="1.5" stroke-linecap="butt" stroke-linejoin="round"/>
<path d="M271.8 371.9V385.2M291.9 361.8V369.4M304.6 365.9V370.9M314.6 369.7V373.4M322 367.1V370.4M327.7 372.8V375.4M332.7 373.9V376.5M338.12 377.5V379.78M342.21 379.62V381.69M345.89 381.51V383.41M349.23 383.38V385.14M352.29 385.33V386.98M355.1 387.02V388.56M357.72 388.68V390.14M360.15 390.42V391.8M362.44 391.94V393.26M364.58 393.66V394.92M366.61 395.44V396.65M368.53 397.11V398.27M370.35 398.77V399.89M372.09 400.11V401.21M373.74 401.15V402.25M375.32 401.88V402.98M376.84 402.83V403.93M378.29 404.09V405.19M379.69 405.8V406.9M381.04 407.11V408.21M382.34 408.28V409.38" fill="none" stroke="#000" stroke-width="1.3" stroke-linecap="butt"/>
<polyline points="383.59,410.16 384.8,411.25 385.97,412.31 387.11,413.35 388.21,414.36 389.27,415.35 390.31,416.32 391.32,417.26 392.3,418.18 393.25,419.09 394.18,419.97 395.09,420.84 395.98,421.69 396.84,422.52 397.68,423.33 398.51,424.13 399.31,424.92 400.1,425.69 400.87,426.45 401.63,427.19 402.37,427.92 403.09,428.64 403.8,429.34 404.5,430.03 405.18,430.7 405.85,431.36 406.51,432.01 407.16,432.65 407.79,433.28 408.42,433.9 409.03,434.51 409.63,435.12 410.23,435.71 410.81,436.29 411.39,436.87 411.95,437.44 412.51,438 413.06,438.55 413.6,439.1 414.13,439.64 414.66,440.17 415.17,440.7 415.68,441.22 416.19,441.73 416.68,442.23 417.17,442.73 417.65,443.23 418.13,443.72 418.6,444.2 419.06,444.68 419.52,445.15 419.97,445.61 420.42,446.07 420.86,446.53 421.3,446.98 421.73,447.43 422.15,447.87 422.57,448.31 422.99,448.74 423.4,449.17 423.81,449.59 424.21,450.01 424.61,450.43 425,450.84 425.39,451.24 425.77,451.65 426.16,452.05 426.53,452.44 426.91,452.84 427.27,453.22 427.64,453.61 428,453.99 428.36,454.37 428.71,454.74 429.07,455.12 429.41,455.49 429.76,455.85 430.1,456.21 430.44,456.57 430.77,456.93 431.1,457.28 431.43,457.63 431.76,457.98 432.08,458.32 432.4,458.67 432.72,459.01 433.03,459.34 433.34,459.68 433.65,460.01 433.96,460.34 434.26,460.66 434.57,460.99 434.86,461.31 435.16,461.63 435.45,461.94 435.75,462.26 436.04,462.57 436.32,462.88 436.61,463.19 436.89,463.49 437.17,463.8 437.45,464.1 437.72,464.4 438,464.7 438.27,464.99 438.54,465.28 438.81,465.58 439.07,465.87 439.34,466.15 439.6,466.44 439.86,466.72 440.12,467 440.37,467.28 440.63,467.56 440.88,467.75" fill="none" stroke="#000" stroke-width="1.1" stroke-linecap="butt" stroke-linejoin="round"/>
<path d="M276.2 383.54L282.8 380.64M290.6 378L294.2 376.4L297.7 378.1M304.8 380.6L312.6 381M320.4 381L326.8 384.8M334.1 387.7L339.9 391.6M348 394.2L350.9 397.4L353.9 397.8M360.4 402.4L363.2 404.6L365.2 407.8M371.3 413L374 415.14L376.9 415.44M382.3 421.8L387.3 427.7M393 432.2L398.1 438M403.3 443.2L408.5 449M413.6 454.94L418.5 460.44M423.6 466.4L428.6 472.2M433.3 478.4L438.1 484.1M442.7 490.1L447.3 495.8" fill="none" stroke="#0000ff" stroke-width="1.5" stroke-linecap="butt" stroke-linejoin="round"/>
</g>
<path d="M63.54 184.87v-3.1M63.54 27.35v3.1M70.13 184.87v-3.1M70.13 27.35v3.1M75.69 184.87v-3.1M75.69 27.35v3.1M80.51 184.87v-3.1M80.51 27.35v3.1M84.77 184.87v-3.1M84.77 27.35v3.1M88.57 184.87v-6.1M88.57 27.35v6.1M113.6 184.87v-3.1M113.6 27.35v3.1M128.24 184.87v-3.1M128.24 27.35v3.1M138.63 184.87v-3.1M138.63 27.35v3.1M146.68 184.87v-3.1M146.68 27.35v3.1M153.27 184.87v-3.1M153.27 27.35v3.1M158.83 184.87v-3.1M158.83 27.35v3.1M163.65 184.87v-3.1M163.65 27.35v3.1M167.91 184.87v-3.1M167.91 27.35v3.1M171.71 184.87v-6.1M171.71 27.35v6.1M196.74 184.87v-3.1M196.74 27.35v3.1M211.38 184.87v-3.1M211.38 27.35v3.1M221.77 184.87v-3.1M221.77 27.35v3.1M229.82 184.87v-3.1M229.82 27.35v3.1M236.41 184.87v-3.1M236.41 27.35v3.1M241.97 184.87v-3.1M241.97 27.35v3.1M246.79 184.87v-3.1M246.79 27.35v3.1M251.05 184.87v-3.1M251.05 27.35v3.1M55.65 170.51h4.1M254.85 170.51h-4.1M55.65 162.11h4.1M254.85 162.11h-4.1M55.65 156.15h4.1M254.85 156.15h-4.1M55.65 151.53h4.1M254.85 151.53h-4.1M55.65 147.75h4.1M254.85 147.75h-4.1M55.65 144.56h4.1M254.85 144.56h-4.1M55.65 141.79h4.1M254.85 141.79h-4.1M55.65 139.35h4.1M254.85 139.35h-4.1M55.65 137.17h8.3M254.85 137.17h-8.3M55.65 122.81h4.1M254.85 122.81h-4.1M55.65 114.41h4.1M254.85 114.41h-4.1M55.65 108.45h4.1M254.85 108.45h-4.1M55.65 103.83h4.1M254.85 103.83h-4.1M55.65 100.05h4.1M254.85 100.05h-4.1M55.65 96.86h4.1M254.85 96.86h-4.1M55.65 94.09h4.1M254.85 94.09h-4.1M55.65 91.65h4.1M254.85 91.65h-4.1M55.65 89.47h8.3M254.85 89.47h-8.3M55.65 75.11h4.1M254.85 75.11h-4.1M55.65 66.71h4.1M254.85 66.71h-4.1M55.65 60.75h4.1M254.85 60.75h-4.1M55.65 56.13h4.1M254.85 56.13h-4.1M55.65 52.35h4.1M254.85 52.35h-4.1M55.65 49.16h4.1M254.85 49.16h-4.1M55.65 46.39h4.1M254.85 46.39h-4.1M55.65 43.95h4.1M254.85 43.95h-4.1M55.65 41.77h8.3M254.85 41.77h-8.3M55.65 27.41h4.1M254.85 27.41h-4.1M262.74 184.87v-3.1M262.74 27.35v3.1M269.33 184.87v-3.1M269.33 27.35v3.1M274.89 184.87v-3.1M274.89 27.35v3.1M279.71 184.87v-3.1M279.71 27.35v3.1M283.97 184.87v-3.1M283.97 27.35v3.1M287.77 184.87v-6.1M287.77 27.35v6.1M312.8 184.87v-3.1M312.8 27.35v3.1M327.44 184.87v-3.1M327.44 27.35v3.1M337.83 184.87v-3.1M337.83 27.35v3.1M345.88 184.87v-3.1M345.88 27.35v3.1M352.47 184.87v-3.1M352.47 27.35v3.1M358.03 184.87v-3.1M358.03 27.35v3.1M362.85 184.87v-3.1M362.85 27.35v3.1M367.11 184.87v-3.1M367.11 27.35v3.1M370.91 184.87v-6.1M370.91 27.35v6.1M395.94 184.87v-3.1M395.94 27.35v3.1M410.58 184.87v-3.1M410.58 27.35v3.1M420.97 184.87v-3.1M420.97 27.35v3.1M429.02 184.87v-3.1M429.02 27.35v3.1M435.61 184.87v-3.1M435.61 27.35v3.1M441.17 184.87v-3.1M441.17 27.35v3.1M445.99 184.87v-3.1M445.99 27.35v3.1M450.25 184.87v-3.1M450.25 27.35v3.1M254.85 170.51h4.1M454.05 170.51h-4.1M254.85 162.11h4.1M454.05 162.11h-4.1M254.85 156.15h4.1M454.05 156.15h-4.1M254.85 151.53h4.1M454.05 151.53h-4.1M254.85 147.75h4.1M454.05 147.75h-4.1M254.85 144.56h4.1M454.05 144.56h-4.1M254.85 141.79h4.1M454.05 141.79h-4.1M254.85 139.35h4.1M454.05 139.35h-4.1M254.85 137.17h8.3M454.05 137.17h-8.3M254.85 122.81h4.1M454.05 122.81h-4.1M254.85 114.41h4.1M454.05 114.41h-4.1M254.85 108.45h4.1M454.05 108.45h-4.1M254.85 103.83h4.1M454.05 103.83h-4.1M254.85 100.05h4.1M454.05 100.05h-4.1M254.85 96.86h4.1M454.05 96.86h-4.1M254.85 94.09h4.1M454.05 94.09h-4.1M254.85 91.65h4.1M454.05 91.65h-4.1M254.85 89.47h8.3M454.05 89.47h-8.3M254.85 75.11h4.1M454.05 75.11h-4.1M254.85 66.71h4.1M454.05 66.71h-4.1M254.85 60.75h4.1M454.05 60.75h-4.1M254.85 56.13h4.1M454.05 56.13h-4.1M254.85 52.35h4.1M454.05 52.35h-4.1M254.85 49.16h4.1M454.05 49.16h-4.1M254.85 46.39h4.1M454.05 46.39h-4.1M254.85 43.95h4.1M454.05 43.95h-4.1M254.85 41.77h8.3M454.05 41.77h-8.3M254.85 27.41h4.1M454.05 27.41h-4.1M63.54 342.39v-3.1M63.54 184.88v3.1M70.13 342.39v-3.1M70.13 184.88v3.1M75.69 342.39v-3.1M75.69 184.88v3.1M80.51 342.39v-3.1M80.51 184.88v3.1M84.77 342.39v-3.1M84.77 184.88v3.1M88.57 342.39v-6.1M88.57 184.88v6.1M113.6 342.39v-3.1M113.6 184.88v3.1M128.24 342.39v-3.1M128.24 184.88v3.1M138.63 342.39v-3.1M138.63 184.88v3.1M146.68 342.39v-3.1M146.68 184.88v3.1M153.27 342.39v-3.1M153.27 184.88v3.1M158.83 342.39v-3.1M158.83 184.88v3.1M163.65 342.39v-3.1M163.65 184.88v3.1M167.91 342.39v-3.1M167.91 184.88v3.1M171.71 342.39v-6.1M171.71 184.88v6.1M196.74 342.39v-3.1M196.74 184.88v3.1M211.38 342.39v-3.1M211.38 184.88v3.1M221.77 342.39v-3.1M221.77 184.88v3.1M229.82 342.39v-3.1M229.82 184.88v3.1M236.41 342.39v-3.1M236.41 184.88v3.1M241.97 342.39v-3.1M241.97 184.88v3.1M246.79 342.39v-3.1M246.79 184.88v3.1M251.05 342.39v-3.1M251.05 184.88v3.1M55.65 328.03h4.1M254.85 328.03h-4.1M55.65 319.63h4.1M254.85 319.63h-4.1M55.65 313.67h4.1M254.85 313.67h-4.1M55.65 309.05h4.1M254.85 309.05h-4.1M55.65 305.27h4.1M254.85 305.27h-4.1M55.65 302.08h4.1M254.85 302.08h-4.1M55.65 299.31h4.1M254.85 299.31h-4.1M55.65 296.87h4.1M254.85 296.87h-4.1M55.65 294.69h8.3M254.85 294.69h-8.3M55.65 280.33h4.1M254.85 280.33h-4.1M55.65 271.93h4.1M254.85 271.93h-4.1M55.65 265.97h4.1M254.85 265.97h-4.1M55.65 261.35h4.1M254.85 261.35h-4.1M55.65 257.57h4.1M254.85 257.57h-4.1M55.65 254.38h4.1M254.85 254.38h-4.1M55.65 251.61h4.1M254.85 251.61h-4.1M55.65 249.17h4.1M254.85 249.17h-4.1M55.65 246.99h8.3M254.85 246.99h-8.3M55.65 232.63h4.1M254.85 232.63h-4.1M55.65 224.23h4.1M254.85 224.23h-4.1M55.65 218.27h4.1M254.85 218.27h-4.1M55.65 213.65h4.1M254.85 213.65h-4.1M55.65 209.87h4.1M254.85 209.87h-4.1M55.65 206.68h4.1M254.85 206.68h-4.1M55.65 203.91h4.1M254.85 203.91h-4.1M55.65 201.47h4.1M254.85 201.47h-4.1M55.65 199.29h8.3M254.85 199.29h-8.3M55.65 184.93h4.1M254.85 184.93h-4.1M262.74 342.39v-3.1M262.74 184.88v3.1M269.33 342.39v-3.1M269.33 184.88v3.1M274.89 342.39v-3.1M274.89 184.88v3.1M279.71 342.39v-3.1M279.71 184.88v3.1M283.97 342.39v-3.1M283.97 184.88v3.1M287.77 342.39v-6.1M287.77 184.88v6.1M312.8 342.39v-3.1M312.8 184.88v3.1M327.44 342.39v-3.1M327.44 184.88v3.1M337.83 342.39v-3.1M337.83 184.88v3.1M345.88 342.39v-3.1M345.88 184.88v3.1M352.47 342.39v-3.1M352.47 184.88v3.1M358.03 342.39v-3.1M358.03 184.88v3.1M362.85 342.39v-3.1M362.85 184.88v3.1M367.11 342.39v-3.1M367.11 184.88v3.1M370.91 342.39v-6.1M370.91 184.88v6.1M395.94 342.39v-3.1M395.94 184.88v3.1M410.58 342.39v-3.1M410.58 184.88v3.1M420.97 342.39v-3.1M420.97 184.88v3.1M429.02 342.39v-3.1M429.02 184.88v3.1M435.61 342.39v-3.1M435.61 184.88v3.1M441.17 342.39v-3.1M441.17 184.88v3.1M445.99 342.39v-3.1M445.99 184.88v3.1M450.25 342.39v-3.1M450.25 184.88v3.1M254.85 328.03h4.1M454.05 328.03h-4.1M254.85 319.63h4.1M454.05 319.63h-4.1M254.85 313.67h4.1M454.05 313.67h-4.1M254.85 309.05h4.1M454.05 309.05h-4.1M254.85 305.27h4.1M454.05 305.27h-4.1M254.85 302.08h4.1M454.05 302.08h-4.1M254.85 299.31h4.1M454.05 299.31h-4.1M254.85 296.87h4.1M454.05 296.87h-4.1M254.85 294.69h8.3M454.05 294.69h-8.3M254.85 280.33h4.1M454.05 280.33h-4.1M254.85 271.93h4.1M454.05 271.93h-4.1M254.85 265.97h4.1M454.05 265.97h-4.1M254.85 261.35h4.1M454.05 261.35h-4.1M254.85 257.57h4.1M454.05 257.57h-4.1M254.85 254.38h4.1M454.05 254.38h-4.1M254.85 251.61h4.1M454.05 251.61h-4.1M254.85 249.17h4.1M454.05 249.17h-4.1M254.85 246.99h8.3M454.05 246.99h-8.3M254.85 232.63h4.1M454.05 232.63h-4.1M254.85 224.23h4.1M454.05 224.23h-4.1M254.85 218.27h4.1M454.05 218.27h-4.1M254.85 213.65h4.1M454.05 213.65h-4.1M254.85 209.87h4.1M454.05 209.87h-4.1M254.85 206.68h4.1M454.05 206.68h-4.1M254.85 203.91h4.1M454.05 203.91h-4.1M254.85 201.47h4.1M454.05 201.47h-4.1M254.85 199.29h8.3M454.05 199.29h-8.3M254.85 184.93h4.1M454.05 184.93h-4.1M63.54 500v-3.1M63.54 342.39v3.1M70.13 500v-3.1M70.13 342.39v3.1M75.69 500v-3.1M75.69 342.39v3.1M80.51 500v-3.1M80.51 342.39v3.1M84.77 500v-3.1M84.77 342.39v3.1M88.57 500v-6.1M88.57 342.39v6.1M113.6 500v-3.1M113.6 342.39v3.1M128.24 500v-3.1M128.24 342.39v3.1M138.63 500v-3.1M138.63 342.39v3.1M146.68 500v-3.1M146.68 342.39v3.1M153.27 500v-3.1M153.27 342.39v3.1M158.83 500v-3.1M158.83 342.39v3.1M163.65 500v-3.1M163.65 342.39v3.1M167.91 500v-3.1M167.91 342.39v3.1M171.71 500v-6.1M171.71 342.39v6.1M196.74 500v-3.1M196.74 342.39v3.1M211.38 500v-3.1M211.38 342.39v3.1M221.77 500v-3.1M221.77 342.39v3.1M229.82 500v-3.1M229.82 342.39v3.1M236.41 500v-3.1M236.41 342.39v3.1M241.97 500v-3.1M241.97 342.39v3.1M246.79 500v-3.1M246.79 342.39v3.1M251.05 500v-3.1M251.05 342.39v3.1M55.65 485.64h4.1M254.85 485.64h-4.1M55.65 477.24h4.1M254.85 477.24h-4.1M55.65 471.28h4.1M254.85 471.28h-4.1M55.65 466.66h4.1M254.85 466.66h-4.1M55.65 462.88h4.1M254.85 462.88h-4.1M55.65 459.69h4.1M254.85 459.69h-4.1M55.65 456.92h4.1M254.85 456.92h-4.1M55.65 454.48h4.1M254.85 454.48h-4.1M55.65 452.3h8.3M254.85 452.3h-8.3M55.65 437.94h4.1M254.85 437.94h-4.1M55.65 429.54h4.1M254.85 429.54h-4.1M55.65 423.58h4.1M254.85 423.58h-4.1M55.65 418.96h4.1M254.85 418.96h-4.1M55.65 415.18h4.1M254.85 415.18h-4.1M55.65 411.99h4.1M254.85 411.99h-4.1M55.65 409.22h4.1M254.85 409.22h-4.1M55.65 406.78h4.1M254.85 406.78h-4.1M55.65 404.6h8.3M254.85 404.6h-8.3M55.65 390.24h4.1M254.85 390.24h-4.1M55.65 381.84h4.1M254.85 381.84h-4.1M55.65 375.88h4.1M254.85 375.88h-4.1M55.65 371.26h4.1M254.85 371.26h-4.1M55.65 367.48h4.1M254.85 367.48h-4.1M55.65 364.29h4.1M254.85 364.29h-4.1M55.65 361.52h4.1M254.85 361.52h-4.1M55.65 359.08h4.1M254.85 359.08h-4.1M55.65 356.9h8.3M254.85 356.9h-8.3M55.65 342.54h4.1M254.85 342.54h-4.1M262.74 500v-3.1M262.74 342.39v3.1M269.33 500v-3.1M269.33 342.39v3.1M274.89 500v-3.1M274.89 342.39v3.1M279.71 500v-3.1M279.71 342.39v3.1M283.97 500v-3.1M283.97 342.39v3.1M287.77 500v-6.1M287.77 342.39v6.1M312.8 500v-3.1M312.8 342.39v3.1M327.44 500v-3.1M327.44 342.39v3.1M337.83 500v-3.1M337.83 342.39v3.1M345.88 500v-3.1M345.88 342.39v3.1M352.47 500v-3.1M352.47 342.39v3.1M358.03 500v-3.1M358.03 342.39v3.1M362.85 500v-3.1M362.85 342.39v3.1M367.11 500v-3.1M367.11 342.39v3.1M370.91 500v-6.1M370.91 342.39v6.1M395.94 500v-3.1M395.94 342.39v3.1M410.58 500v-3.1M410.58 342.39v3.1M420.97 500v-3.1M420.97 342.39v3.1M429.02 500v-3.1M429.02 342.39v3.1M435.61 500v-3.1M435.61 342.39v3.1M441.17 500v-3.1M441.17 342.39v3.1M445.99 500v-3.1M445.99 342.39v3.1M450.25 500v-3.1M450.25 342.39v3.1M254.85 485.64h4.1M454.05 485.64h-4.1M254.85 477.24h4.1M454.05 477.24h-4.1M254.85 471.28h4.1M454.05 471.28h-4.1M254.85 466.66h4.1M454.05 466.66h-4.1M254.85 462.88h4.1M454.05 462.88h-4.1M254.85 459.69h4.1M454.05 459.69h-4.1M254.85 456.92h4.1M454.05 456.92h-4.1M254.85 454.48h4.1M454.05 454.48h-4.1M254.85 452.3h8.3M454.05 452.3h-8.3M254.85 437.94h4.1M454.05 437.94h-4.1M254.85 429.54h4.1M454.05 429.54h-4.1M254.85 423.58h4.1M454.05 423.58h-4.1M254.85 418.96h4.1M454.05 418.96h-4.1M254.85 415.18h4.1M454.05 415.18h-4.1M254.85 411.99h4.1M454.05 411.99h-4.1M254.85 409.22h4.1M454.05 409.22h-4.1M254.85 406.78h4.1M454.05 406.78h-4.1M254.85 404.6h8.3M454.05 404.6h-8.3M254.85 390.24h4.1M454.05 390.24h-4.1M254.85 381.84h4.1M454.05 381.84h-4.1M254.85 375.88h4.1M454.05 375.88h-4.1M254.85 371.26h4.1M454.05 371.26h-4.1M254.85 367.48h4.1M454.05 367.48h-4.1M254.85 364.29h4.1M454.05 364.29h-4.1M254.85 361.52h4.1M454.05 361.52h-4.1M254.85 359.08h4.1M454.05 359.08h-4.1M254.85 356.9h8.3M454.05 356.9h-8.3M254.85 342.54h4.1M454.05 342.54h-4.1" fill="none" stroke="#000" stroke-width="1.2" stroke-linecap="butt" stroke-linejoin="round"/>
<path d="M55.65 27.35H254.85V184.87H55.65ZM254.85 27.35H454.05V184.87H254.85ZM55.65 184.88H254.85V342.39H55.65ZM254.85 184.88H454.05V342.39H254.85ZM55.65 342.39H254.85V500H55.65ZM254.85 342.39H454.05V500H254.85Z" fill="none" stroke="#000" stroke-width="1.6" stroke-linecap="butt" stroke-linejoin="round"/>
<path d="M139.55 37.15L139.55 46.05M139.55 37.15L142.95 37.15L144.41 37.57L145.38 38.42L145.87 39.27L146.35 40.54L146.35 42.66L145.87 43.93L145.38 44.78L144.41 45.63L142.95 46.05L139.55 46.05M154.2 40.11L154.2 46.05M154.2 41.39L153.3 40.54L152.4 40.11L151.05 40.11L150.15 40.54L149.25 41.39L148.8 42.66L148.8 43.51L149.25 44.78L150.15 45.63L151.05 46.05L152.4 46.05L153.3 45.63L154.2 44.78M157.8 40.11L157.8 46.05M157.8 42.66L158.25 41.39L159.15 40.54L160.05 40.11L161.4 40.11M163.65 37.15L163.65 46.05M168.15 40.11L163.65 44.35M165.45 42.66L168.6 46.05M178.5 37.15L178.5 46.05M178.5 37.15L182.1 46.05M185.7 37.15L182.1 46.05M185.7 37.15L185.7 46.05M194.25 40.11L194.25 46.05M194.25 41.39L193.35 40.54L192.45 40.11L191.1 40.11L190.2 40.54L189.3 41.39L188.85 42.66L188.85 43.51L189.3 44.78L190.2 45.63L191.1 46.05L192.45 46.05L193.35 45.63L194.25 44.78M198.3 37.15L198.3 44.35L198.75 45.63L199.65 46.05L200.55 46.05M196.95 40.11L200.1 40.11M203.7 37.15L203.7 44.35L204.15 45.63L205.05 46.05L205.95 46.05M202.35 40.11L205.5 40.11M208.2 42.66L213.6 42.66L213.6 41.81L213.15 40.96L212.7 40.54L211.8 40.11L210.45 40.11L209.55 40.54L208.65 41.39L208.2 42.66L208.2 43.51L208.65 44.78L209.55 45.63L210.45 46.05L211.8 46.05L212.7 45.63L213.6 44.78M216.75 40.11L216.75 46.05M216.75 42.66L217.2 41.39L218.1 40.54L219 40.11L220.35 40.11" fill="none" stroke="#000" stroke-width="1.32" stroke-linecap="round" stroke-linejoin="round"/>
<path d="M139.8 51.25L139.8 60.15M139.8 51.25L143.85 51.25L145.2 51.67L145.65 52.09L146.1 52.94L146.1 53.79L145.65 54.64L145.2 55.06L143.85 55.49L139.8 55.49M142.95 55.49L146.1 60.15M148.8 56.76L154.2 56.76L154.2 55.91L153.75 55.06L153.3 54.64L152.4 54.21L151.05 54.21L150.15 54.64L149.25 55.49L148.8 56.76L148.8 57.61L149.25 58.88L150.15 59.73L151.05 60.15L152.4 60.15L153.3 59.73L154.2 58.88M162.3 54.21L162.3 60.15M162.3 55.49L161.4 54.64L160.5 54.21L159.15 54.21L158.25 54.64L157.35 55.49L156.9 56.76L156.9 57.61L157.35 58.88L158.25 59.73L159.15 60.15L160.5 60.15L161.4 59.73L162.3 58.88M165.9 51.25L165.9 60.15M182.55 52.52L181.65 51.67L180.3 51.25L178.5 51.25L177.15 51.67L176.25 52.52L176.25 53.37L176.7 54.21L177.15 54.64L178.05 55.06L180.75 55.91L181.65 56.33L182.1 56.76L182.55 57.61L182.55 58.88L181.65 59.73L180.3 60.15L178.5 60.15L177.15 59.73L176.25 58.88M185.7 54.21L185.7 63.12M185.7 55.49L186.6 54.64L187.5 54.21L188.85 54.21L189.75 54.64L190.65 55.49L191.1 56.76L191.1 57.61L190.65 58.88L189.75 59.73L188.85 60.15L187.5 60.15L186.6 59.73L185.7 58.88M199.2 54.21L199.2 60.15M199.2 55.49L198.3 54.64L197.4 54.21L196.05 54.21L195.15 54.64L194.25 55.49L193.8 56.76L193.8 57.61L194.25 58.88L195.15 59.73L196.05 60.15L197.4 60.15L198.3 59.73L199.2 58.88M207.75 55.49L206.85 54.64L205.95 54.21L204.6 54.21L203.7 54.64L202.8 55.49L202.35 56.76L202.35 57.61L202.8 58.88L203.7 59.73L204.6 60.15L205.95 60.15L206.85 59.73L207.75 58.88M210.45 56.76L215.85 56.76L215.85 55.91L215.4 55.06L214.95 54.64L214.05 54.21L212.7 54.21L211.8 54.64L210.9 55.49L210.45 56.76L210.45 57.61L210.9 58.88L211.8 59.73L212.7 60.15L214.05 60.15L214.95 59.73L215.85 58.88" fill="none" stroke="#000" stroke-width="1.32" stroke-linecap="round" stroke-linejoin="round"/>
<path d="M339.1 37.15L339.1 46.05M339.1 37.15L342.5 37.15L343.96 37.57L344.93 38.42L345.42 39.27L345.9 40.54L345.9 42.66L345.42 43.93L344.93 44.78L343.96 45.63L342.5 46.05L339.1 46.05M353.75 40.11L353.75 46.05M353.75 41.39L352.85 40.54L351.95 40.11L350.6 40.11L349.7 40.54L348.8 41.39L348.35 42.66L348.35 43.51L348.8 44.78L349.7 45.63L350.6 46.05L351.95 46.05L352.85 45.63L353.75 44.78M357.35 40.11L357.35 46.05M357.35 42.66L357.8 41.39L358.7 40.54L359.6 40.11L360.95 40.11M363.2 37.15L363.2 46.05M367.7 40.11L363.2 44.35M365 42.66L368.15 46.05M378.05 37.15L378.05 46.05M378.05 37.15L381.65 46.05M385.25 37.15L381.65 46.05M385.25 37.15L385.25 46.05M393.8 40.11L393.8 46.05M393.8 41.39L392.9 40.54L392 40.11L390.65 40.11L389.75 40.54L388.85 41.39L388.4 42.66L388.4 43.51L388.85 44.78L389.75 45.63L390.65 46.05L392 46.05L392.9 45.63L393.8 44.78M397.85 37.15L397.85 44.35L398.3 45.63L399.2 46.05L400.1 46.05M396.5 40.11L399.65 40.11M403.25 37.15L403.25 44.35L403.7 45.63L404.6 46.05L405.5 46.05M401.9 40.11L405.05 40.11M407.75 42.66L413.15 42.66L413.15 41.81L412.7 40.96L412.25 40.54L411.35 40.11L410 40.11L409.1 40.54L408.2 41.39L407.75 42.66L407.75 43.51L408.2 44.78L409.1 45.63L410 46.05L411.35 46.05L412.25 45.63L413.15 44.78M416.3 40.11L416.3 46.05M416.3 42.66L416.75 41.39L417.65 40.54L418.55 40.11L419.9 40.11" fill="none" stroke="#000" stroke-width="1.32" stroke-linecap="round" stroke-linejoin="round"/>
<path d="M339.35 51.25L339.35 60.15M339.35 51.25L343.4 51.25L344.75 51.67L345.2 52.09L345.65 52.94L345.65 53.79L345.2 54.64L344.75 55.06L343.4 55.49L339.35 55.49M342.5 55.49L345.65 60.15M348.35 56.76L353.75 56.76L353.75 55.91L353.3 55.06L352.85 54.64L351.95 54.21L350.6 54.21L349.7 54.64L348.8 55.49L348.35 56.76L348.35 57.61L348.8 58.88L349.7 59.73L350.6 60.15L351.95 60.15L352.85 59.73L353.75 58.88M361.85 51.25L361.85 60.15M361.85 55.49L360.95 54.64L360.05 54.21L358.7 54.21L357.8 54.64L356.9 55.49L356.45 56.76L356.45 57.61L356.9 58.88L357.8 59.73L358.7 60.15L360.05 60.15L360.95 59.73L361.85 58.88M369.95 55.49L369.5 54.64L368.15 54.21L366.8 54.21L365.45 54.64L365 55.49L365.45 56.33L366.35 56.76L368.6 57.18L369.5 57.61L369.95 58.45L369.95 58.88L369.5 59.73L368.15 60.15L366.8 60.15L365.45 59.73L365 58.88M373.1 51.25L373.1 60.15M373.1 55.91L374.45 54.64L375.35 54.21L376.7 54.21L377.6 54.64L378.05 55.91L378.05 60.15M381.2 51.25L381.65 51.67L382.1 51.25L381.65 50.82L381.2 51.25M381.65 54.21L381.65 60.15M387.95 51.25L387.05 51.25L386.15 51.67L385.7 52.94L385.7 60.15M384.35 54.21L387.5 54.21M391.1 51.25L391.1 58.45L391.55 59.73L392.45 60.15L393.35 60.15M389.75 54.21L392.9 54.21M409.1 52.52L408.2 51.67L406.85 51.25L405.05 51.25L403.7 51.67L402.8 52.52L402.8 53.37L403.25 54.21L403.7 54.64L404.6 55.06L407.3 55.91L408.2 56.33L408.65 56.76L409.1 57.61L409.1 58.88L408.2 59.73L406.85 60.15L405.05 60.15L403.7 59.73L402.8 58.88M412.25 54.21L412.25 63.12M412.25 55.49L413.15 54.64L414.05 54.21L415.4 54.21L416.3 54.64L417.2 55.49L417.65 56.76L417.65 57.61L417.2 58.88L416.3 59.73L415.4 60.15L414.05 60.15L413.15 59.73L412.25 58.88M425.75 54.21L425.75 60.15M425.75 55.49L424.85 54.64L423.95 54.21L422.6 54.21L421.7 54.64L420.8 55.49L420.35 56.76L420.35 57.61L420.8 58.88L421.7 59.73L422.6 60.15L423.95 60.15L424.85 59.73L425.75 58.88M434.3 55.49L433.4 54.64L432.5 54.21L431.15 54.21L430.25 54.64L429.35 55.49L428.9 56.76L428.9 57.61L429.35 58.88L430.25 59.73L431.15 60.15L432.5 60.15L433.4 59.73L434.3 58.88M437 56.76L442.4 56.76L442.4 55.91L441.95 55.06L441.5 54.64L440.6 54.21L439.25 54.21L438.35 54.64L437.45 55.49L437 56.76L437 57.61L437.45 58.88L438.35 59.73L439.25 60.15L440.6 60.15L441.5 59.73L442.4 58.88" fill="none" stroke="#000" stroke-width="1.32" stroke-linecap="round" stroke-linejoin="round"/>
<path d="M139.8 194.68L139.8 203.58M146.1 194.68L146.1 203.58M139.8 198.92L146.1 198.92M154.65 197.64L154.65 203.58M154.65 198.92L153.75 198.07L152.85 197.64L151.5 197.64L150.6 198.07L149.7 198.92L149.25 200.19L149.25 201.04L149.7 202.31L150.6 203.16L151.5 203.58L152.85 203.58L153.75 203.16L154.65 202.31M158.25 194.68L158.25 203.58M163.65 197.64L162.75 198.07L161.85 198.92L161.4 200.19L161.4 201.04L161.85 202.31L162.75 203.16L163.65 203.58L165 203.58L165.9 203.16L166.8 202.31L167.25 201.04L167.25 200.19L166.8 198.92L165.9 198.07L165 197.64L163.65 197.64M169.95 200.19L175.35 200.19L175.35 199.34L174.9 198.49L174.45 198.07L173.55 197.64L172.2 197.64L171.3 198.07L170.4 198.92L169.95 200.19L169.95 201.04L170.4 202.31L171.3 203.16L172.2 203.58L173.55 203.58L174.45 203.16L175.35 202.31M183 198.92L182.55 198.07L181.2 197.64L179.85 197.64L178.5 198.07L178.05 198.92L178.5 199.76L179.4 200.19L181.65 200.61L182.55 201.04L183 201.88L183 202.31L182.55 203.16L181.2 203.58L179.85 203.58L178.5 203.16L178.05 202.31" fill="none" stroke="#000" stroke-width="1.32" stroke-linecap="round" stroke-linejoin="round"/>
<path d="M139.8 208.78L139.8 217.68M139.8 208.78L143.85 208.78L145.2 209.2L145.65 209.62L146.1 210.47L146.1 211.32L145.65 212.17L145.2 212.59L143.85 213.02L139.8 213.02M142.95 213.02L146.1 217.68M148.8 214.29L154.2 214.29L154.2 213.44L153.75 212.59L153.3 212.17L152.4 211.74L151.05 211.74L150.15 212.17L149.25 213.02L148.8 214.29L148.8 215.14L149.25 216.41L150.15 217.26L151.05 217.68L152.4 217.68L153.3 217.26L154.2 216.41M162.3 211.74L162.3 217.68M162.3 213.02L161.4 212.17L160.5 211.74L159.15 211.74L158.25 212.17L157.35 213.02L156.9 214.29L156.9 215.14L157.35 216.41L158.25 217.26L159.15 217.68L160.5 217.68L161.4 217.26L162.3 216.41M165.9 208.78L165.9 217.68M182.55 210.05L181.65 209.2L180.3 208.78L178.5 208.78L177.15 209.2L176.25 210.05L176.25 210.9L176.7 211.74L177.15 212.17L178.05 212.59L180.75 213.44L181.65 213.86L182.1 214.29L182.55 215.14L182.55 216.41L181.65 217.26L180.3 217.68L178.5 217.68L177.15 217.26L176.25 216.41M185.7 211.74L185.7 220.65M185.7 213.02L186.6 212.17L187.5 211.74L188.85 211.74L189.75 212.17L190.65 213.02L191.1 214.29L191.1 215.14L190.65 216.41L189.75 217.26L188.85 217.68L187.5 217.68L186.6 217.26L185.7 216.41M199.2 211.74L199.2 217.68M199.2 213.02L198.3 212.17L197.4 211.74L196.05 211.74L195.15 212.17L194.25 213.02L193.8 214.29L193.8 215.14L194.25 216.41L195.15 217.26L196.05 217.68L197.4 217.68L198.3 217.26L199.2 216.41M207.75 213.02L206.85 212.17L205.95 211.74L204.6 211.74L203.7 212.17L202.8 213.02L202.35 214.29L202.35 215.14L202.8 216.41L203.7 217.26L204.6 217.68L205.95 217.68L206.85 217.26L207.75 216.41M210.45 214.29L215.85 214.29L215.85 213.44L215.4 212.59L214.95 212.17L214.05 211.74L212.7 211.74L211.8 212.17L210.9 213.02L210.45 214.29L210.45 215.14L210.9 216.41L211.8 217.26L212.7 217.68L214.05 217.68L214.95 217.26L215.85 216.41" fill="none" stroke="#000" stroke-width="1.32" stroke-linecap="round" stroke-linejoin="round"/>
<path d="M339.35 194.68L339.35 203.58M345.65 194.68L345.65 203.58M339.35 198.92L345.65 198.92M354.2 197.64L354.2 203.58M354.2 198.92L353.3 198.07L352.4 197.64L351.05 197.64L350.15 198.07L349.25 198.92L348.8 200.19L348.8 201.04L349.25 202.31L350.15 203.16L351.05 203.58L352.4 203.58L353.3 203.16L354.2 202.31M357.8 194.68L357.8 203.58M363.2 197.64L362.3 198.07L361.4 198.92L360.95 200.19L360.95 201.04L361.4 202.31L362.3 203.16L363.2 203.58L364.55 203.58L365.45 203.16L366.35 202.31L366.8 201.04L366.8 200.19L366.35 198.92L365.45 198.07L364.55 197.64L363.2 197.64M369.5 200.19L374.9 200.19L374.9 199.34L374.45 198.49L374 198.07L373.1 197.64L371.75 197.64L370.85 198.07L369.95 198.92L369.5 200.19L369.5 201.04L369.95 202.31L370.85 203.16L371.75 203.58L373.1 203.58L374 203.16L374.9 202.31M382.55 198.92L382.1 198.07L380.75 197.64L379.4 197.64L378.05 198.07L377.6 198.92L378.05 199.76L378.95 200.19L381.2 200.61L382.1 201.04L382.55 201.88L382.55 202.31L382.1 203.16L380.75 203.58L379.4 203.58L378.05 203.16L377.6 202.31" fill="none" stroke="#000" stroke-width="1.32" stroke-linecap="round" stroke-linejoin="round"/>
<path d="M339.35 208.78L339.35 217.68M339.35 208.78L343.4 208.78L344.75 209.2L345.2 209.62L345.65 210.47L345.65 211.32L345.2 212.17L344.75 212.59L343.4 213.02L339.35 213.02M342.5 213.02L345.65 217.68M348.35 214.29L353.75 214.29L353.75 213.44L353.3 212.59L352.85 212.17L351.95 211.74L350.6 211.74L349.7 212.17L348.8 213.02L348.35 214.29L348.35 215.14L348.8 216.41L349.7 217.26L350.6 217.68L351.95 217.68L352.85 217.26L353.75 216.41M361.85 208.78L361.85 217.68M361.85 213.02L360.95 212.17L360.05 211.74L358.7 211.74L357.8 212.17L356.9 213.02L356.45 214.29L356.45 215.14L356.9 216.41L357.8 217.26L358.7 217.68L360.05 217.68L360.95 217.26L361.85 216.41M369.95 213.02L369.5 212.17L368.15 211.74L366.8 211.74L365.45 212.17L365 213.02L365.45 213.86L366.35 214.29L368.6 214.71L369.5 215.14L369.95 215.98L369.95 216.41L369.5 217.26L368.15 217.68L366.8 217.68L365.45 217.26L365 216.41M373.1 208.78L373.1 217.68M373.1 213.44L374.45 212.17L375.35 211.74L376.7 211.74L377.6 212.17L378.05 213.44L378.05 217.68M381.2 208.78L381.65 209.2L382.1 208.78L381.65 208.35L381.2 208.78M381.65 211.74L381.65 217.68M387.95 208.78L387.05 208.78L386.15 209.2L385.7 210.47L385.7 217.68M384.35 211.74L387.5 211.74M391.1 208.78L391.1 215.98L391.55 217.26L392.45 217.68L393.35 217.68M389.75 211.74L392.9 211.74M409.1 210.05L408.2 209.2L406.85 208.78L405.05 208.78L403.7 209.2L402.8 210.05L402.8 210.9L403.25 211.74L403.7 212.17L404.6 212.59L407.3 213.44L408.2 213.86L408.65 214.29L409.1 215.14L409.1 216.41L408.2 217.26L406.85 217.68L405.05 217.68L403.7 217.26L402.8 216.41M412.25 211.74L412.25 220.65M412.25 213.02L413.15 212.17L414.05 211.74L415.4 211.74L416.3 212.17L417.2 213.02L417.65 214.29L417.65 215.14L417.2 216.41L416.3 217.26L415.4 217.68L414.05 217.68L413.15 217.26L412.25 216.41M425.75 211.74L425.75 217.68M425.75 213.02L424.85 212.17L423.95 211.74L422.6 211.74L421.7 212.17L420.8 213.02L420.35 214.29L420.35 215.14L420.8 216.41L421.7 217.26L422.6 217.68L423.95 217.68L424.85 217.26L425.75 216.41M434.3 213.02L433.4 212.17L432.5 211.74L431.15 211.74L430.25 212.17L429.35 213.02L428.9 214.29L428.9 215.14L429.35 216.41L430.25 217.26L431.15 217.68L432.5 217.68L433.4 217.26L434.3 216.41M437 214.29L442.4 214.29L442.4 213.44L441.95 212.59L441.5 212.17L440.6 211.74L439.25 211.74L438.35 212.17L437.45 213.02L437 214.29L437 215.14L437.45 216.41L438.35 217.26L439.25 217.68L440.6 217.68L441.5 217.26L442.4 216.41" fill="none" stroke="#000" stroke-width="1.32" stroke-linecap="round" stroke-linejoin="round"/>
<path d="M146.1 354.31L145.65 353.46L144.75 352.61L143.85 352.19L142.05 352.19L141.15 352.61L140.25 353.46L139.8 354.31L139.35 355.58L139.35 357.7L139.8 358.97L140.25 359.82L141.15 360.67L142.05 361.09L143.85 361.09L144.75 360.67L145.65 359.82L146.1 358.97L146.1 357.7M143.85 357.7L146.1 357.7M154.2 355.15L154.2 361.09M154.2 356.43L153.3 355.58L152.4 355.15L151.05 355.15L150.15 355.58L149.25 356.43L148.8 357.7L148.8 358.55L149.25 359.82L150.15 360.67L151.05 361.09L152.4 361.09L153.3 360.67L154.2 359.82M157.8 352.19L157.8 361.09M166.35 355.15L166.35 361.09M166.35 356.43L165.45 355.58L164.55 355.15L163.2 355.15L162.3 355.58L161.4 356.43L160.95 357.7L160.95 358.55L161.4 359.82L162.3 360.67L163.2 361.09L164.55 361.09L165.45 360.67L166.35 359.82M169.5 355.15L174.45 361.09M174.45 355.15L169.5 361.09M177.15 352.19L177.6 352.61L178.05 352.19L177.6 351.76L177.15 352.19M177.6 355.15L177.6 361.09M180.75 357.7L186.15 357.7L186.15 356.85L185.7 356L185.25 355.58L184.35 355.15L183 355.15L182.1 355.58L181.2 356.43L180.75 357.7L180.75 358.55L181.2 359.82L182.1 360.67L183 361.09L184.35 361.09L185.25 360.67L186.15 359.82M193.8 356.43L193.35 355.58L192 355.15L190.65 355.15L189.3 355.58L188.85 356.43L189.3 357.27L190.2 357.7L192.45 358.12L193.35 358.55L193.8 359.39L193.8 359.82L193.35 360.67L192 361.09L190.65 361.09L189.3 360.67L188.85 359.82" fill="none" stroke="#000" stroke-width="1.32" stroke-linecap="round" stroke-linejoin="round"/>
<path d="M139.8 366.29L139.8 375.19M139.8 366.29L143.85 366.29L145.2 366.71L145.65 367.13L146.1 367.98L146.1 368.83L145.65 369.68L145.2 370.1L143.85 370.53L139.8 370.53M142.95 370.53L146.1 375.19M148.8 371.8L154.2 371.8L154.2 370.95L153.75 370.1L153.3 369.68L152.4 369.25L151.05 369.25L150.15 369.68L149.25 370.53L148.8 371.8L148.8 372.65L149.25 373.92L150.15 374.77L151.05 375.19L152.4 375.19L153.3 374.77L154.2 373.92M162.3 369.25L162.3 375.19M162.3 370.53L161.4 369.68L160.5 369.25L159.15 369.25L158.25 369.68L157.35 370.53L156.9 371.8L156.9 372.65L157.35 373.92L158.25 374.77L159.15 375.19L160.5 375.19L161.4 374.77L162.3 373.92M165.9 366.29L165.9 375.19M182.55 367.56L181.65 366.71L180.3 366.29L178.5 366.29L177.15 366.71L176.25 367.56L176.25 368.41L176.7 369.25L177.15 369.68L178.05 370.1L180.75 370.95L181.65 371.37L182.1 371.8L182.55 372.65L182.55 373.92L181.65 374.77L180.3 375.19L178.5 375.19L177.15 374.77L176.25 373.92M185.7 369.25L185.7 378.16M185.7 370.53L186.6 369.68L187.5 369.25L188.85 369.25L189.75 369.68L190.65 370.53L191.1 371.8L191.1 372.65L190.65 373.92L189.75 374.77L188.85 375.19L187.5 375.19L186.6 374.77L185.7 373.92M199.2 369.25L199.2 375.19M199.2 370.53L198.3 369.68L197.4 369.25L196.05 369.25L195.15 369.68L194.25 370.53L193.8 371.8L193.8 372.65L194.25 373.92L195.15 374.77L196.05 375.19L197.4 375.19L198.3 374.77L199.2 373.92M207.75 370.53L206.85 369.68L205.95 369.25L204.6 369.25L203.7 369.68L202.8 370.53L202.35 371.8L202.35 372.65L202.8 373.92L203.7 374.77L204.6 375.19L205.95 375.19L206.85 374.77L207.75 373.92M210.45 371.8L215.85 371.8L215.85 370.95L215.4 370.1L214.95 369.68L214.05 369.25L212.7 369.25L211.8 369.68L210.9 370.53L210.45 371.8L210.45 372.65L210.9 373.92L211.8 374.77L212.7 375.19L214.05 375.19L214.95 374.77L215.85 373.92" fill="none" stroke="#000" stroke-width="1.32" stroke-linecap="round" stroke-linejoin="round"/>
<path d="M345.65 354.31L345.2 353.46L344.3 352.61L343.4 352.19L341.6 352.19L340.7 352.61L339.8 353.46L339.35 354.31L338.9 355.58L338.9 357.7L339.35 358.97L339.8 359.82L340.7 360.67L341.6 361.09L343.4 361.09L344.3 360.67L345.2 359.82L345.65 358.97L345.65 357.7M343.4 357.7L345.65 357.7M353.75 355.15L353.75 361.09M353.75 356.43L352.85 355.58L351.95 355.15L350.6 355.15L349.7 355.58L348.8 356.43L348.35 357.7L348.35 358.55L348.8 359.82L349.7 360.67L350.6 361.09L351.95 361.09L352.85 360.67L353.75 359.82M357.35 352.19L357.35 361.09M365.9 355.15L365.9 361.09M365.9 356.43L365 355.58L364.1 355.15L362.75 355.15L361.85 355.58L360.95 356.43L360.5 357.7L360.5 358.55L360.95 359.82L361.85 360.67L362.75 361.09L364.1 361.09L365 360.67L365.9 359.82M369.05 355.15L374 361.09M374 355.15L369.05 361.09M376.7 352.19L377.15 352.61L377.6 352.19L377.15 351.76L376.7 352.19M377.15 355.15L377.15 361.09M380.3 357.7L385.7 357.7L385.7 356.85L385.25 356L384.8 355.58L383.9 355.15L382.55 355.15L381.65 355.58L380.75 356.43L380.3 357.7L380.3 358.55L380.75 359.82L381.65 360.67L382.55 361.09L383.9 361.09L384.8 360.67L385.7 359.82M393.35 356.43L392.9 355.58L391.55 355.15L390.2 355.15L388.85 355.58L388.4 356.43L388.85 357.27L389.75 357.7L392 358.12L392.9 358.55L393.35 359.39L393.35 359.82L392.9 360.67L391.55 361.09L390.2 361.09L388.85 360.67L388.4 359.82" fill="none" stroke="#000" stroke-width="1.32" stroke-linecap="round" stroke-linejoin="round"/>
<path d="M339.35 366.29L339.35 375.19M339.35 366.29L343.4 366.29L344.75 366.71L345.2 367.13L345.65 367.98L345.65 368.83L345.2 369.68L344.75 370.1L343.4 370.53L339.35 370.53M342.5 370.53L345.65 375.19M348.35 371.8L353.75 371.8L353.75 370.95L353.3 370.1L352.85 369.68L351.95 369.25L350.6 369.25L349.7 369.68L348.8 370.53L348.35 371.8L348.35 372.65L348.8 373.92L349.7 374.77L350.6 375.19L351.95 375.19L352.85 374.77L353.75 373.92M361.85 366.29L361.85 375.19M361.85 370.53L360.95 369.68L360.05 369.25L358.7 369.25L357.8 369.68L356.9 370.53L356.45 371.8L356.45 372.65L356.9 373.92L357.8 374.77L358.7 375.19L360.05 375.19L360.95 374.77L361.85 373.92M369.95 370.53L369.5 369.68L368.15 369.25L366.8 369.25L365.45 369.68L365 370.53L365.45 371.37L366.35 371.8L368.6 372.22L369.5 372.65L369.95 373.49L369.95 373.92L369.5 374.77L368.15 375.19L366.8 375.19L365.45 374.77L365 373.92M373.1 366.29L373.1 375.19M373.1 370.95L374.45 369.68L375.35 369.25L376.7 369.25L377.6 369.68L378.05 370.95L378.05 375.19M381.2 366.29L381.65 366.71L382.1 366.29L381.65 365.86L381.2 366.29M381.65 369.25L381.65 375.19M387.95 366.29L387.05 366.29L386.15 366.71L385.7 367.98L385.7 375.19M384.35 369.25L387.5 369.25M391.1 366.29L391.1 373.49L391.55 374.77L392.45 375.19L393.35 375.19M389.75 369.25L392.9 369.25M409.1 367.56L408.2 366.71L406.85 366.29L405.05 366.29L403.7 366.71L402.8 367.56L402.8 368.41L403.25 369.25L403.7 369.68L404.6 370.1L407.3 370.95L408.2 371.37L408.65 371.8L409.1 372.65L409.1 373.92L408.2 374.77L406.85 375.19L405.05 375.19L403.7 374.77L402.8 373.92M412.25 369.25L412.25 378.16M412.25 370.53L413.15 369.68L414.05 369.25L415.4 369.25L416.3 369.68L417.2 370.53L417.65 371.8L417.65 372.65L417.2 373.92L416.3 374.77L415.4 375.19L414.05 375.19L413.15 374.77L412.25 373.92M425.75 369.25L425.75 375.19M425.75 370.53L424.85 369.68L423.95 369.25L422.6 369.25L421.7 369.68L420.8 370.53L420.35 371.8L420.35 372.65L420.8 373.92L421.7 374.77L422.6 375.19L423.95 375.19L424.85 374.77L425.75 373.92M434.3 370.53L433.4 369.68L432.5 369.25L431.15 369.25L430.25 369.68L429.35 370.53L428.9 371.8L428.9 372.65L429.35 373.92L430.25 374.77L431.15 375.19L432.5 375.19L433.4 374.77L434.3 373.92M437 371.8L442.4 371.8L442.4 370.95L441.95 370.1L441.5 369.68L440.6 369.25L439.25 369.25L438.35 369.68L437.45 370.53L437 371.8L437 372.65L437.45 373.92L438.35 374.77L439.25 375.19L440.6 375.19L441.5 374.77L442.4 373.92" fill="none" stroke="#000" stroke-width="1.32" stroke-linecap="round" stroke-linejoin="round"/>
<path d="M30.2 177.76L31.1 177.34L32.45 176.07L32.45 184.97M40.49 176.07L38.95 176.49L37.92 177.76L37.41 179.88L37.41 181.15L37.92 183.27L38.95 184.55L40.49 184.97L41.51 184.97L43.05 184.55L44.08 183.27L44.59 181.15L44.59 179.88L44.08 177.76L43.05 176.49L41.51 176.07L40.49 176.07M46.51 174.17L46.51 173.9L46.84 173.34L47.16 173.06L47.82 172.78L49.12 172.78L49.78 173.06L50.1 173.34L50.43 173.9L50.43 174.45L50.1 175.01L49.45 175.85L46.18 178.65L50.76 178.65" fill="none" stroke="#000" stroke-width="1.32" stroke-linecap="round" stroke-linejoin="round"/>
<path d="M30.2 134.96L31.1 134.54L32.45 133.27L32.45 142.17M40.49 133.27L38.95 133.69L37.92 134.96L37.41 137.08L37.41 138.35L37.92 140.47L38.95 141.75L40.49 142.17L41.51 142.17L43.05 141.75L44.08 140.47L44.59 138.35L44.59 137.08L44.08 134.96L43.05 133.69L41.51 133.27L40.49 133.27M46.84 129.98L50.43 129.98L48.47 132.21L49.45 132.21L50.1 132.49L50.43 132.77L50.76 133.61L50.76 134.17L50.43 135.01L49.78 135.57L48.8 135.85L47.82 135.85L46.84 135.57L46.51 135.29L46.18 134.73" fill="none" stroke="#000" stroke-width="1.32" stroke-linecap="round" stroke-linejoin="round"/>
<path d="M30.2 87.26L31.1 86.84L32.45 85.57L32.45 94.47M40.49 85.57L38.95 85.99L37.92 87.26L37.41 89.38L37.41 90.65L37.92 92.77L38.95 94.05L40.49 94.47L41.51 94.47L43.05 94.05L44.08 92.77L44.59 90.65L44.59 89.38L44.08 87.26L43.05 85.99L41.51 85.57L40.49 85.57M49.45 82.28L46.18 86.19L51.08 86.19M49.45 82.28L49.45 88.15" fill="none" stroke="#000" stroke-width="1.32" stroke-linecap="round" stroke-linejoin="round"/>
<path d="M30.2 39.56L31.1 39.14L32.45 37.87L32.45 46.77M40.49 37.87L38.95 38.29L37.92 39.56L37.41 41.68L37.41 42.95L37.92 45.07L38.95 46.35L40.49 46.77L41.51 46.77L43.05 46.35L44.08 45.07L44.59 42.95L44.59 41.68L44.08 39.56L43.05 38.29L41.51 37.87L40.49 37.87M50.1 34.58L46.84 34.58L46.51 37.09L46.84 36.81L47.82 36.53L48.8 36.53L49.78 36.81L50.43 37.37L50.76 38.21L50.76 38.77L50.43 39.61L49.78 40.17L48.8 40.45L47.82 40.45L46.84 40.17L46.51 39.89L46.18 39.33" fill="none" stroke="#000" stroke-width="1.32" stroke-linecap="round" stroke-linejoin="round"/>
<path d="M5.7 160.86L14.6 160.86M5.7 160.86L5.7 156.81L6.12 155.46L6.54 155.01L7.39 154.56L8.66 154.56L9.51 155.01L9.94 155.46L10.36 156.81L10.36 160.86M4 148.26L4.85 149.16L6.12 150.06L7.82 150.96L9.94 151.41L11.63 151.41L13.75 150.96L15.45 150.06L16.72 149.16L17.57 148.26M5.7 145.11L14.6 145.11M8.66 140.61L12.9 145.11M11.21 143.31L14.6 140.16M4 137.91L4.85 137.01L6.12 136.11L7.82 135.21L9.94 134.76L11.63 134.76L13.75 135.21L15.45 136.11L16.72 137.01L17.57 137.91M4 123.96L17.57 123.96M4 123.96L4 120.81M17.57 123.96L17.57 120.81M5.7 117.66L14.6 117.66M10.36 117.66L9.09 116.31L8.66 115.41L8.66 114.06L9.09 113.16L10.36 112.71L14.6 112.71M5.76 109.72L5.76 104.38M2.41 101.85L2.41 98.26L4.64 100.22L4.64 99.24L4.92 98.59L5.2 98.26L6.04 97.93L6.6 97.93L7.44 98.26L8 98.91L8.28 99.89L8.28 100.87L8 101.85L7.72 102.18L7.16 102.51M5.7 88.25L14.6 88.25M5.7 88.25L14.6 84.65M5.7 81.05L14.6 84.65M5.7 81.05L14.6 81.05M8.66 77.45L17.57 77.45M9.94 77.45L9.09 76.55L8.66 75.65L8.66 74.3L9.09 73.4L9.94 72.5L11.21 72.05L12.06 72.05L13.33 72.5L14.18 73.4L14.6 74.3L14.6 75.65L14.18 76.55L13.33 77.45M9.94 63.95L9.09 64.85L8.66 65.75L8.66 67.1L9.09 68L9.94 68.9L11.21 69.35L12.06 69.35L13.33 68.9L14.18 68L14.6 67.1L14.6 65.75L14.18 64.85L13.33 63.95M2.41 61.26L2.41 57.67L4.64 59.63L4.64 58.65L4.92 58L5.2 57.67L6.04 57.34L6.6 57.34L7.44 57.67L8 58.32L8.28 59.3L8.28 60.28L8 61.26L7.72 61.59L7.16 61.92M4 52.16L17.57 52.16M4 55.31L4 52.16M17.57 55.31L17.57 52.16" fill="none" stroke="#000" stroke-width="1.32" stroke-linecap="round" stroke-linejoin="round"/>
<path d="M30.2 335.28L31.1 334.86L32.45 333.59L32.45 342.49M40.49 333.59L38.95 334.01L37.92 335.28L37.41 337.4L37.41 338.67L37.92 340.79L38.95 342.07L40.49 342.49L41.51 342.49L43.05 342.07L44.08 340.79L44.59 338.67L44.59 337.4L44.08 335.28L43.05 334.01L41.51 333.59L40.49 333.59M46.51 331.69L46.51 331.42L46.84 330.86L47.16 330.58L47.82 330.3L49.12 330.3L49.78 330.58L50.1 330.86L50.43 331.42L50.43 331.97L50.1 332.53L49.45 333.37L46.18 336.17L50.76 336.17" fill="none" stroke="#000" stroke-width="1.32" stroke-linecap="round" stroke-linejoin="round"/>
<path d="M30.2 292.48L31.1 292.06L32.45 290.79L32.45 299.69M40.49 290.79L38.95 291.21L37.92 292.48L37.41 294.6L37.41 295.87L37.92 297.99L38.95 299.27L40.49 299.69L41.51 299.69L43.05 299.27L44.08 297.99L44.59 295.87L44.59 294.6L44.08 292.48L43.05 291.21L41.51 290.79L40.49 290.79M46.84 287.5L50.43 287.5L48.47 289.73L49.45 289.73L50.1 290.01L50.43 290.29L50.76 291.13L50.76 291.69L50.43 292.53L49.78 293.09L48.8 293.37L47.82 293.37L46.84 293.09L46.51 292.81L46.18 292.25" fill="none" stroke="#000" stroke-width="1.32" stroke-linecap="round" stroke-linejoin="round"/>
<path d="M30.2 244.78L31.1 244.36L32.45 243.09L32.45 251.99M40.49 243.09L38.95 243.51L37.92 244.78L37.41 246.9L37.41 248.17L37.92 250.29L38.95 251.57L40.49 251.99L41.51 251.99L43.05 251.57L44.08 250.29L44.59 248.17L44.59 246.9L44.08 244.78L43.05 243.51L41.51 243.09L40.49 243.09M49.45 239.8L46.18 243.71L51.08 243.71M49.45 239.8L49.45 245.67" fill="none" stroke="#000" stroke-width="1.32" stroke-linecap="round" stroke-linejoin="round"/>
<path d="M30.2 197.08L31.1 196.66L32.45 195.39L32.45 204.29M40.49 195.39L38.95 195.81L37.92 197.08L37.41 199.2L37.41 200.47L37.92 202.59L38.95 203.87L40.49 204.29L41.51 204.29L43.05 203.87L44.08 202.59L44.59 200.47L44.59 199.2L44.08 197.08L43.05 195.81L41.51 195.39L40.49 195.39M50.1 192.1L46.84 192.1L46.51 194.61L46.84 194.33L47.82 194.05L48.8 194.05L49.78 194.33L50.43 194.89L50.76 195.73L50.76 196.29L50.43 197.13L49.78 197.69L48.8 197.97L47.82 197.97L46.84 197.69L46.51 197.41L46.18 196.85" fill="none" stroke="#000" stroke-width="1.32" stroke-linecap="round" stroke-linejoin="round"/>
<path d="M5.7 318.39L14.6 318.39M5.7 318.39L5.7 314.34L6.12 312.99L6.54 312.54L7.39 312.09L8.66 312.09L9.51 312.54L9.94 312.99L10.36 314.34L10.36 318.39M4 305.79L4.85 306.69L6.12 307.59L7.82 308.49L9.94 308.94L11.63 308.94L13.75 308.49L15.45 307.59L16.72 306.69L17.57 305.79M5.7 302.64L14.6 302.64M8.66 298.14L12.9 302.64M11.21 300.84L14.6 297.69M4 295.44L4.85 294.54L6.12 293.64L7.82 292.74L9.94 292.29L11.63 292.29L13.75 292.74L15.45 293.64L16.72 294.54L17.57 295.44M4 281.49L17.57 281.49M4 281.49L4 278.34M17.57 281.49L17.57 278.34M5.7 275.19L14.6 275.19M10.36 275.19L9.09 273.84L8.66 272.94L8.66 271.59L9.09 270.69L10.36 270.24L14.6 270.24M5.76 267.25L5.76 261.9M2.41 259.38L2.41 255.78L4.64 257.74L4.64 256.76L4.92 256.11L5.2 255.78L6.04 255.46L6.6 255.46L7.44 255.78L8 256.44L8.28 257.42L8.28 258.4L8 259.38L7.72 259.7L7.16 260.03M5.7 245.77L14.6 245.77M5.7 245.77L14.6 242.17M5.7 238.57L14.6 242.17M5.7 238.57L14.6 238.57M8.66 234.97L17.57 234.97M9.94 234.97L9.09 234.07L8.66 233.17L8.66 231.82L9.09 230.92L9.94 230.02L11.21 229.57L12.06 229.57L13.33 230.02L14.18 230.92L14.6 231.82L14.6 233.17L14.18 234.07L13.33 234.97M9.94 221.47L9.09 222.37L8.66 223.27L8.66 224.62L9.09 225.52L9.94 226.42L11.21 226.87L12.06 226.87L13.33 226.42L14.18 225.52L14.6 224.62L14.6 223.27L14.18 222.37L13.33 221.47M2.41 218.79L2.41 215.19L4.64 217.15L4.64 216.17L4.92 215.52L5.2 215.19L6.04 214.87L6.6 214.87L7.44 215.19L8 215.85L8.28 216.83L8.28 217.81L8 218.79L7.72 219.11L7.16 219.44M4 209.68L17.57 209.68M4 212.83L4 209.68M17.57 212.83L17.57 209.68" fill="none" stroke="#000" stroke-width="1.32" stroke-linecap="round" stroke-linejoin="round"/>
<path d="M30.2 492.89L31.1 492.47L32.45 491.2L32.45 500.1M40.49 491.2L38.95 491.62L37.92 492.89L37.41 495.01L37.41 496.28L37.92 498.4L38.95 499.68L40.49 500.1L41.51 500.1L43.05 499.68L44.08 498.4L44.59 496.28L44.59 495.01L44.08 492.89L43.05 491.62L41.51 491.2L40.49 491.2M46.51 489.3L46.51 489.03L46.84 488.47L47.16 488.19L47.82 487.91L49.12 487.91L49.78 488.19L50.1 488.47L50.43 489.03L50.43 489.58L50.1 490.14L49.45 490.98L46.18 493.78L50.76 493.78" fill="none" stroke="#000" stroke-width="1.32" stroke-linecap="round" stroke-linejoin="round"/>
<path d="M30.2 450.09L31.1 449.67L32.45 448.4L32.45 457.3M40.49 448.4L38.95 448.82L37.92 450.09L37.41 452.21L37.41 453.48L37.92 455.6L38.95 456.88L40.49 457.3L41.51 457.3L43.05 456.88L44.08 455.6L44.59 453.48L44.59 452.21L44.08 450.09L43.05 448.82L41.51 448.4L40.49 448.4M46.84 445.11L50.43 445.11L48.47 447.34L49.45 447.34L50.1 447.62L50.43 447.9L50.76 448.74L50.76 449.3L50.43 450.14L49.78 450.7L48.8 450.98L47.82 450.98L46.84 450.7L46.51 450.42L46.18 449.86" fill="none" stroke="#000" stroke-width="1.32" stroke-linecap="round" stroke-linejoin="round"/>
<path d="M30.2 402.39L31.1 401.97L32.45 400.7L32.45 409.6M40.49 400.7L38.95 401.12L37.92 402.39L37.41 404.51L37.41 405.78L37.92 407.9L38.95 409.18L40.49 409.6L41.51 409.6L43.05 409.18L44.08 407.9L44.59 405.78L44.59 404.51L44.08 402.39L43.05 401.12L41.51 400.7L40.49 400.7M49.45 397.41L46.18 401.32L51.08 401.32M49.45 397.41L49.45 403.28" fill="none" stroke="#000" stroke-width="1.32" stroke-linecap="round" stroke-linejoin="round"/>
<path d="M30.2 354.69L31.1 354.27L32.45 353L32.45 361.9M40.49 353L38.95 353.42L37.92 354.69L37.41 356.81L37.41 358.08L37.92 360.2L38.95 361.48L40.49 361.9L41.51 361.9L43.05 361.48L44.08 360.2L44.59 358.08L44.59 356.81L44.08 354.69L43.05 353.42L41.51 353L40.49 353M50.1 349.71L46.84 349.71L46.51 352.22L46.84 351.94L47.82 351.66L48.8 351.66L49.78 351.94L50.43 352.5L50.76 353.34L50.76 353.9L50.43 354.74L49.78 355.3L48.8 355.58L47.82 355.58L46.84 355.3L46.51 355.02L46.18 354.46" fill="none" stroke="#000" stroke-width="1.32" stroke-linecap="round" stroke-linejoin="round"/>
<path d="M5.7 475.95L14.6 475.95M5.7 475.95L5.7 471.9L6.12 470.55L6.54 470.1L7.39 469.65L8.66 469.65L9.51 470.1L9.94 470.55L10.36 471.9L10.36 475.95M4 463.35L4.85 464.25L6.12 465.15L7.82 466.05L9.94 466.5L11.63 466.5L13.75 466.05L15.45 465.15L16.72 464.25L17.57 463.35M5.7 460.2L14.6 460.2M8.66 455.7L12.9 460.2M11.21 458.4L14.6 455.25M4 453L4.85 452.1L6.12 451.2L7.82 450.3L9.94 449.85L11.63 449.85L13.75 450.3L15.45 451.2L16.72 452.1L17.57 453M4 439.05L17.57 439.05M4 439.05L4 435.9M17.57 439.05L17.57 435.9M5.7 432.75L14.6 432.75M10.36 432.75L9.09 431.4L8.66 430.5L8.66 429.15L9.09 428.25L10.36 427.8L14.6 427.8M5.76 424.81L5.76 419.46M2.41 416.94L2.41 413.34L4.64 415.3L4.64 414.32L4.92 413.67L5.2 413.34L6.04 413.02L6.6 413.02L7.44 413.34L8 414L8.28 414.98L8.28 415.96L8 416.94L7.72 417.26L7.16 417.59M5.7 403.33L14.6 403.33M5.7 403.33L14.6 399.73M5.7 396.13L14.6 399.73M5.7 396.13L14.6 396.13M8.66 392.53L17.57 392.53M9.94 392.53L9.09 391.63L8.66 390.73L8.66 389.38L9.09 388.48L9.94 387.58L11.21 387.13L12.06 387.13L13.33 387.58L14.18 388.48L14.6 389.38L14.6 390.73L14.18 391.63L13.33 392.53M9.94 379.03L9.09 379.93L8.66 380.83L8.66 382.18L9.09 383.08L9.94 383.98L11.21 384.43L12.06 384.43L13.33 383.98L14.18 383.08L14.6 382.18L14.6 380.83L14.18 379.93L13.33 379.03M2.41 376.35L2.41 372.75L4.64 374.71L4.64 373.73L4.92 373.08L5.2 372.75L6.04 372.43L6.6 372.43L7.44 372.75L8 373.41L8.28 374.39L8.28 375.37L8 376.35L7.72 376.67L7.16 377M4 367.24L17.57 367.24M4 370.39L4 367.24M17.57 370.39L17.57 367.24" fill="none" stroke="#000" stroke-width="1.32" stroke-linecap="round" stroke-linejoin="round"/>
<path d="M76.41 511.5L74.87 511.92L73.84 513.19L73.33 515.31L73.33 516.58L73.84 518.7L74.87 519.98L76.41 520.4L77.43 520.4L78.97 519.98L80 518.7L80.51 516.58L80.51 515.31L80 513.19L78.97 511.92L77.43 511.5L76.41 511.5M83.67 519.55L83.22 519.98L83.67 520.4L84.12 519.98L83.67 519.55M89.91 511.5L88.37 511.92L87.34 513.19L86.83 515.31L86.83 516.58L87.34 518.7L88.37 519.98L89.91 520.4L90.93 520.4L92.47 519.98L93.5 518.7L94.01 516.58L94.01 515.31L93.5 513.19L92.47 511.92L90.93 511.5L89.91 511.5M97.62 513.19L98.52 512.77L99.87 511.5L99.87 520.4" fill="none" stroke="#000" stroke-width="1.32" stroke-linecap="round" stroke-linejoin="round"/>
<path d="M159.55 511.5L158.01 511.92L156.98 513.19L156.47 515.31L156.47 516.58L156.98 518.7L158.01 519.98L159.55 520.4L160.57 520.4L162.11 519.98L163.14 518.7L163.65 516.58L163.65 515.31L163.14 513.19L162.11 511.92L160.57 511.5L159.55 511.5M166.81 519.55L166.36 519.98L166.81 520.4L167.26 519.98L166.81 519.55M171.76 513.19L172.66 512.77L174.01 511.5L174.01 520.4M182.05 511.5L180.51 511.92L179.48 513.19L178.97 515.31L178.97 516.58L179.48 518.7L180.51 519.98L182.05 520.4L183.07 520.4L184.61 519.98L185.64 518.7L186.15 516.58L186.15 515.31L185.64 513.19L184.61 511.92L183.07 511.5L182.05 511.5" fill="none" stroke="#000" stroke-width="1.32" stroke-linecap="round" stroke-linejoin="round"/>
<path d="M241.4 513.19L242.3 512.77L243.65 511.5L243.65 520.4M249.95 519.55L249.5 519.98L249.95 520.4L250.4 519.98L249.95 519.55M256.19 511.5L254.65 511.92L253.62 513.19L253.11 515.31L253.11 516.58L253.62 518.7L254.65 519.98L256.19 520.4L257.21 520.4L258.75 519.98L259.78 518.7L260.29 516.58L260.29 515.31L259.78 513.19L258.75 511.92L257.21 511.5L256.19 511.5M265.19 511.5L263.65 511.92L262.62 513.19L262.11 515.31L262.11 516.58L262.62 518.7L263.65 519.98L265.19 520.4L266.21 520.4L267.75 519.98L268.78 518.7L269.29 516.58L269.29 515.31L268.78 513.19L267.75 511.92L266.21 511.5L265.19 511.5" fill="none" stroke="#000" stroke-width="1.32" stroke-linecap="round" stroke-linejoin="round"/>
<path d="M115.1 529.1L115.1 538M119.6 532.06L115.1 536.3M116.9 534.61L120.05 538M129.95 527.4L129.95 540.97M129.95 527.4L133.1 527.4M129.95 540.97L133.1 540.97M136.25 529.1L136.25 538M136.25 533.76L137.6 532.49L138.5 532.06L139.85 532.06L140.75 532.49L141.2 533.76L141.2 538M152 529.1L152 538M152 529.1L155.6 538M159.2 529.1L155.6 538M159.2 529.1L159.2 538M162.8 532.06L162.8 540.97M162.8 533.34L163.7 532.49L164.6 532.06L165.95 532.06L166.85 532.49L167.75 533.34L168.2 534.61L168.2 535.46L167.75 536.73L166.85 537.58L165.95 538L164.6 538L163.7 537.58L162.8 536.73M176.3 533.34L175.4 532.49L174.5 532.06L173.15 532.06L172.25 532.49L171.35 533.34L170.9 534.61L170.9 535.46L171.35 536.73L172.25 537.58L173.15 538L174.5 538L175.4 537.58L176.3 536.73M178.84 529.16L184.18 529.16M187.15 526.93L187.75 526.65L188.64 525.81L188.64 531.68M195.81 527.4L195.81 540.97M192.66 527.4L195.81 527.4M192.66 540.97L195.81 540.97" fill="none" stroke="#000" stroke-width="1.32" stroke-linecap="round" stroke-linejoin="round"/>
<path d="M275.61 511.5L274.07 511.92L273.04 513.19L272.53 515.31L272.53 516.58L273.04 518.7L274.07 519.98L275.61 520.4L276.63 520.4L278.17 519.98L279.2 518.7L279.71 516.58L279.71 515.31L279.2 513.19L278.17 511.92L276.63 511.5L275.61 511.5M282.87 519.55L282.42 519.98L282.87 520.4L283.32 519.98L282.87 519.55M289.11 511.5L287.57 511.92L286.54 513.19L286.03 515.31L286.03 516.58L286.54 518.7L287.57 519.98L289.11 520.4L290.13 520.4L291.67 519.98L292.7 518.7L293.21 516.58L293.21 515.31L292.7 513.19L291.67 511.92L290.13 511.5L289.11 511.5M296.82 513.19L297.72 512.77L299.07 511.5L299.07 520.4" fill="none" stroke="#000" stroke-width="1.32" stroke-linecap="round" stroke-linejoin="round"/>
<path d="M358.75 511.5L357.21 511.92L356.18 513.19L355.67 515.31L355.67 516.58L356.18 518.7L357.21 519.98L358.75 520.4L359.77 520.4L361.31 519.98L362.34 518.7L362.85 516.58L362.85 515.31L362.34 513.19L361.31 511.92L359.77 511.5L358.75 511.5M366.01 519.55L365.56 519.98L366.01 520.4L366.46 519.98L366.01 519.55M370.96 513.19L371.86 512.77L373.21 511.5L373.21 520.4M381.25 511.5L379.71 511.92L378.68 513.19L378.17 515.31L378.17 516.58L378.68 518.7L379.71 519.98L381.25 520.4L382.27 520.4L383.81 519.98L384.84 518.7L385.35 516.58L385.35 515.31L384.84 513.19L383.81 511.92L382.27 511.5L381.25 511.5" fill="none" stroke="#000" stroke-width="1.32" stroke-linecap="round" stroke-linejoin="round"/>
<path d="M440.6 513.19L441.5 512.77L442.85 511.5L442.85 520.4M449.15 519.55L448.7 519.98L449.15 520.4L449.6 519.98L449.15 519.55M455.39 511.5L453.85 511.92L452.82 513.19L452.31 515.31L452.31 516.58L452.82 518.7L453.85 519.98L455.39 520.4L456.41 520.4L457.95 519.98L458.98 518.7L459.49 516.58L459.49 515.31L458.98 513.19L457.95 511.92L456.41 511.5L455.39 511.5M464.39 511.5L462.85 511.92L461.82 513.19L461.31 515.31L461.31 516.58L461.82 518.7L462.85 519.98L464.39 520.4L465.41 520.4L466.95 519.98L467.98 518.7L468.49 516.58L468.49 515.31L467.98 513.19L466.95 511.92L465.41 511.5L464.39 511.5" fill="none" stroke="#000" stroke-width="1.32" stroke-linecap="round" stroke-linejoin="round"/>
<path d="M314.5 529.1L314.5 538M319 532.06L314.5 536.3M316.3 534.61L319.45 538M329.35 527.4L329.35 540.97M329.35 527.4L332.5 527.4M329.35 540.97L332.5 540.97M335.65 529.1L335.65 538M335.65 533.76L337 532.49L337.9 532.06L339.25 532.06L340.15 532.49L340.6 533.76L340.6 538M351.4 529.1L351.4 538M351.4 529.1L355 538M358.6 529.1L355 538M358.6 529.1L358.6 538M362.2 532.06L362.2 540.97M362.2 533.34L363.1 532.49L364 532.06L365.35 532.06L366.25 532.49L367.15 533.34L367.6 534.61L367.6 535.46L367.15 536.73L366.25 537.58L365.35 538L364 538L363.1 537.58L362.2 536.73M375.7 533.34L374.8 532.49L373.9 532.06L372.55 532.06L371.65 532.49L370.75 533.34L370.3 534.61L370.3 535.46L370.75 536.73L371.65 537.58L372.55 538L373.9 538L374.8 537.58L375.7 536.73M378.24 529.16L383.58 529.16M386.55 526.93L387.15 526.65L388.04 525.81L388.04 531.68M395.21 527.4L395.21 540.97M392.06 527.4L395.21 527.4M392.06 540.97L395.21 540.97" fill="none" stroke="#000" stroke-width="1.32" stroke-linecap="round" stroke-linejoin="round"/>
</svg>
</body></html>
